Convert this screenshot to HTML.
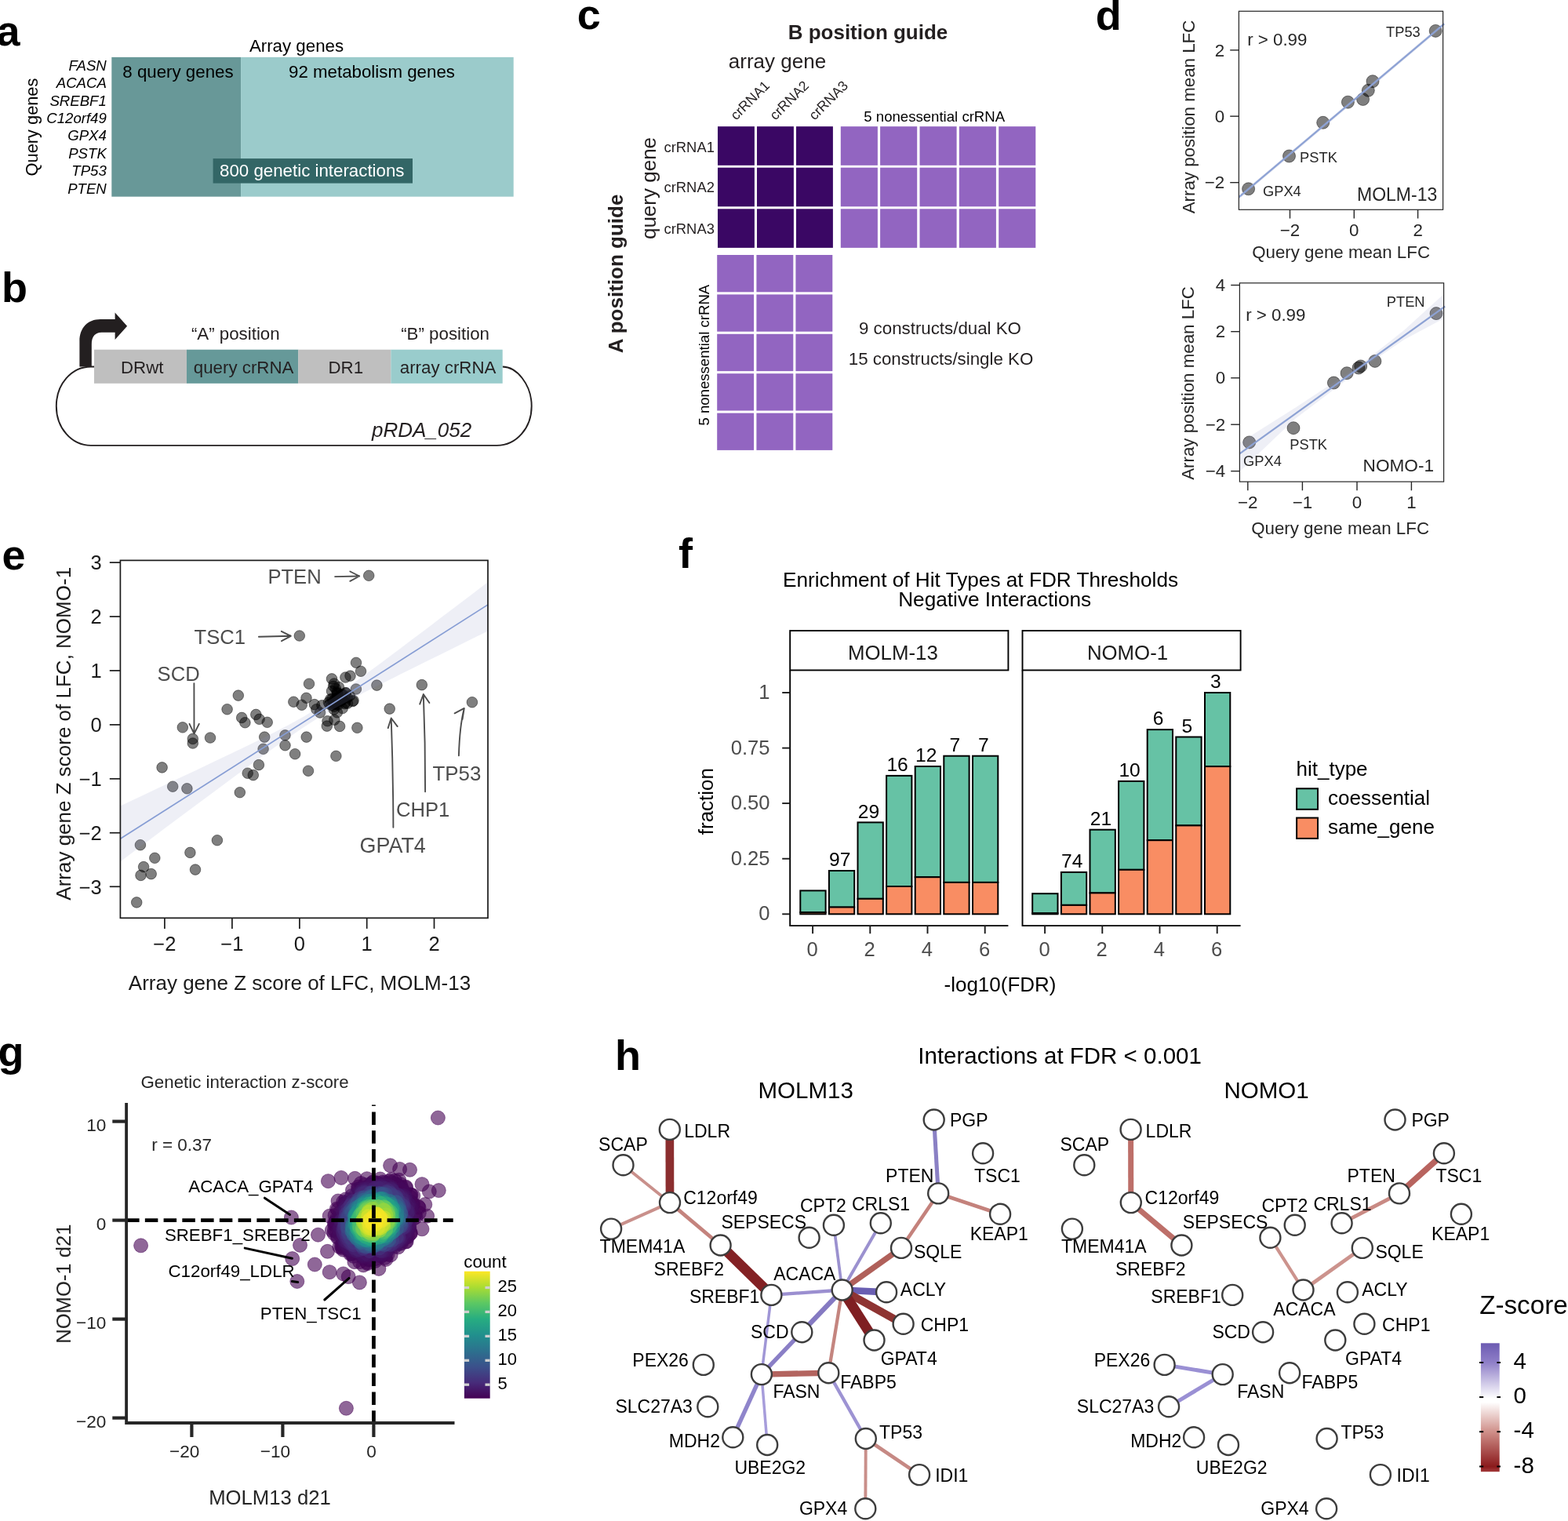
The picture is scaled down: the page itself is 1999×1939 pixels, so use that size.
<!DOCTYPE html>
<html lang="en"><head><meta charset="utf-8"><title>Figure</title>
<style>
html,body{margin:0;padding:0;background:#fff;}
body{width:1999px;height:1939px;overflow:hidden;}
svg{display:block;font-family:"Liberation Sans",Arial,sans-serif;}
</style></head><body>
<svg width="1999" height="1939" viewBox="0 0 1999 1939">
<rect width="1999" height="1939" fill="#fff"/>
<g id="pa">
<text x="-4.5" y="57.5" font-size="54" font-weight="bold">a</text>
<rect x="142.3" y="72.9" width="165.0" height="177.8" fill="#689898"/>
<rect x="307.1" y="72.9" width="347.6" height="177.8" fill="#9bcbcb"/>
<rect x="271.6" y="202.1" width="254.4" height="31.5" fill="#336666"/>
<text x="378.0" y="66.0" font-size="22.3" text-anchor="middle">Array genes</text>
<text x="156.3" y="99.0" font-size="22.3">8 query genes</text>
<text x="368.0" y="99.0" font-size="22.3">92 metabolism genes</text>
<text x="280.0" y="225.3" font-size="22.3" fill="#fff">800 genetic interactions</text>
<text x="135.8" y="89.8" font-size="18.6" text-anchor="end" font-style="italic">FASN</text>
<text x="135.8" y="112.2" font-size="18.6" text-anchor="end" font-style="italic">ACACA</text>
<text x="135.8" y="134.6" font-size="18.6" text-anchor="end" font-style="italic">SREBF1</text>
<text x="135.8" y="157.0" font-size="18.6" text-anchor="end" font-style="italic">C12orf49</text>
<text x="135.8" y="179.4" font-size="18.6" text-anchor="end" font-style="italic">GPX4</text>
<text x="135.8" y="201.8" font-size="18.6" text-anchor="end" font-style="italic">PSTK</text>
<text x="135.8" y="224.2" font-size="18.6" text-anchor="end" font-style="italic">TP53</text>
<text x="135.8" y="246.6" font-size="18.6" text-anchor="end" font-style="italic">PTEN</text>
<text transform="translate(47.5 162.0) rotate(-90)" font-size="21.8" text-anchor="middle">Query genes</text>
</g>
<g id="pb">
<text x="2.0" y="384.5" font-size="54" font-weight="bold">b</text>
<path d="M120 467.5 H116 C91 467.5 71.8 490 71.8 517.7 C71.8 545.5 91 567.9 116 567.9 H633.5 C658.5 567.9 677.7 545.5 677.7 517.7 C677.7 490 658.5 467.5 640.7 467.5" fill="none" stroke="#231f20" stroke-width="1.9"/>
<path d="M101.4 467.5 V435 C101.4 418 112 407.1 128 407.1 H146.6 V398.4 L162.1 415.7 L146.6 433 V423.8 H129.5 C121.5 423.8 116.8 429 116.8 439 V467.5 Z" fill="#231f20"/>
<rect x="120.0" y="445.7" width="118.2" height="43.1" fill="#bfbfbf"/>
<rect x="238.0" y="445.7" width="142.3" height="43.1" fill="#669999"/>
<rect x="380.2" y="445.7" width="118.3" height="43.1" fill="#bfbfbf"/>
<rect x="498.4" y="445.7" width="142.3" height="43.1" fill="#99cccc"/>
<text x="154.0" y="475.9" font-size="22.3" fill="#231f20">DRwt</text>
<text x="246.8" y="475.9" font-size="22.3" fill="#231f20">query crRNA</text>
<text x="418.5" y="475.9" font-size="22.3" fill="#231f20">DR1</text>
<text x="509.8" y="475.9" font-size="22.3" fill="#231f20">array crRNA</text>
<text x="243.9" y="433.0" font-size="22.3" fill="#231f20">“A” position</text>
<text x="511.2" y="433.0" font-size="22.3" fill="#231f20">“B” position</text>
<text x="474.0" y="556.8" font-size="26" font-style="italic" fill="#231f20">pRDA_052</text>
</g>
<g id="pc">
<text x="735.8" y="37.3" font-size="54" font-weight="bold">c</text>
<text x="1106.5" y="50.0" font-size="26" text-anchor="middle" font-weight="bold" fill="#231f20">B position guide</text>
<text transform="translate(794.0 349.0) rotate(-90)" font-size="26" text-anchor="middle" font-weight="bold" fill="#231f20">A position guide</text>
<text x="991.0" y="86.7" font-size="26" text-anchor="middle" fill="#231f20">array gene</text>
<text transform="translate(836.0 240.0) rotate(-90)" font-size="26" text-anchor="middle" fill="#231f20">query gene</text>
<rect x="915.0" y="161.2" width="46.9" height="49.6" fill="#3a0764"/>
<rect x="965.0" y="161.2" width="46.9" height="49.6" fill="#3a0764"/>
<rect x="1015.0" y="161.2" width="46.9" height="49.6" fill="#3a0764"/>
<rect x="915.0" y="213.7" width="46.9" height="49.6" fill="#3a0764"/>
<rect x="965.0" y="213.7" width="46.9" height="49.6" fill="#3a0764"/>
<rect x="1015.0" y="213.7" width="46.9" height="49.6" fill="#3a0764"/>
<rect x="915.0" y="266.3" width="46.9" height="49.6" fill="#3a0764"/>
<rect x="965.0" y="266.3" width="46.9" height="49.6" fill="#3a0764"/>
<rect x="1015.0" y="266.3" width="46.9" height="49.6" fill="#3a0764"/>
<rect x="1071.8" y="161.2" width="47.1" height="49.6" fill="#9265c1"/>
<rect x="1122.1" y="161.2" width="47.1" height="49.6" fill="#9265c1"/>
<rect x="1172.5" y="161.2" width="47.1" height="49.6" fill="#9265c1"/>
<rect x="1222.8" y="161.2" width="47.1" height="49.6" fill="#9265c1"/>
<rect x="1273.2" y="161.2" width="47.1" height="49.6" fill="#9265c1"/>
<rect x="1071.8" y="213.7" width="47.1" height="49.6" fill="#9265c1"/>
<rect x="1122.1" y="213.7" width="47.1" height="49.6" fill="#9265c1"/>
<rect x="1172.5" y="213.7" width="47.1" height="49.6" fill="#9265c1"/>
<rect x="1222.8" y="213.7" width="47.1" height="49.6" fill="#9265c1"/>
<rect x="1273.2" y="213.7" width="47.1" height="49.6" fill="#9265c1"/>
<rect x="1071.8" y="266.3" width="47.1" height="49.6" fill="#9265c1"/>
<rect x="1122.1" y="266.3" width="47.1" height="49.6" fill="#9265c1"/>
<rect x="1172.5" y="266.3" width="47.1" height="49.6" fill="#9265c1"/>
<rect x="1222.8" y="266.3" width="47.1" height="49.6" fill="#9265c1"/>
<rect x="1273.2" y="266.3" width="47.1" height="49.6" fill="#9265c1"/>
<rect x="914.2" y="325.0" width="46.9" height="47.3" fill="#9265c1"/>
<rect x="964.4" y="325.0" width="46.9" height="47.3" fill="#9265c1"/>
<rect x="1014.4" y="325.0" width="46.9" height="47.3" fill="#9265c1"/>
<rect x="914.2" y="375.4" width="46.9" height="47.3" fill="#9265c1"/>
<rect x="964.4" y="375.4" width="46.9" height="47.3" fill="#9265c1"/>
<rect x="1014.4" y="375.4" width="46.9" height="47.3" fill="#9265c1"/>
<rect x="914.2" y="425.8" width="46.9" height="47.3" fill="#9265c1"/>
<rect x="964.4" y="425.8" width="46.9" height="47.3" fill="#9265c1"/>
<rect x="1014.4" y="425.8" width="46.9" height="47.3" fill="#9265c1"/>
<rect x="914.2" y="476.2" width="46.9" height="47.3" fill="#9265c1"/>
<rect x="964.4" y="476.2" width="46.9" height="47.3" fill="#9265c1"/>
<rect x="1014.4" y="476.2" width="46.9" height="47.3" fill="#9265c1"/>
<rect x="914.2" y="526.6" width="46.9" height="47.3" fill="#9265c1"/>
<rect x="964.4" y="526.6" width="46.9" height="47.3" fill="#9265c1"/>
<rect x="1014.4" y="526.6" width="46.9" height="47.3" fill="#9265c1"/>
<text transform="translate(938.4 154.0) rotate(-45)" font-size="17.7" fill="#231f20">crRNA1</text>
<text transform="translate(988.4 154.0) rotate(-45)" font-size="17.7" fill="#231f20">crRNA2</text>
<text transform="translate(1038.4 154.0) rotate(-45)" font-size="17.7" fill="#231f20">crRNA3</text>
<text x="846.5" y="193.5" font-size="18.4" fill="#231f20">crRNA1</text>
<text x="846.5" y="244.8" font-size="18.4" fill="#231f20">crRNA2</text>
<text x="846.5" y="297.5" font-size="18.4" fill="#231f20">crRNA3</text>
<text x="1101.3" y="154.9" font-size="18.6">5 nonessential crRNA</text>
<text transform="translate(904.0 452.7) rotate(-90)" font-size="18.6" text-anchor="middle">5 nonessential crRNA</text>
<text x="1095.0" y="426.0" font-size="22.3" fill="#231f20">9 constructs/dual KO</text>
<text x="1081.8" y="465.4" font-size="22.3" fill="#231f20">15 constructs/single KO</text>
</g>
<g id="pd">
<text x="1396.8" y="37.5" font-size="54" font-weight="bold">d</text>
<circle cx="1830.2" cy="39.4" r="8.0" fill="#000" fill-opacity="0.5" stroke="#000" stroke-opacity="0.45" stroke-width="1"/>
<circle cx="1750.0" cy="103.7" r="8.0" fill="#000" fill-opacity="0.5" stroke="#000" stroke-opacity="0.45" stroke-width="1"/>
<circle cx="1744.3" cy="115.3" r="8.0" fill="#000" fill-opacity="0.5" stroke="#000" stroke-opacity="0.45" stroke-width="1"/>
<circle cx="1737.6" cy="126.5" r="8.0" fill="#000" fill-opacity="0.5" stroke="#000" stroke-opacity="0.45" stroke-width="1"/>
<circle cx="1718.4" cy="130.2" r="8.0" fill="#000" fill-opacity="0.5" stroke="#000" stroke-opacity="0.45" stroke-width="1"/>
<circle cx="1686.7" cy="156.3" r="8.0" fill="#000" fill-opacity="0.5" stroke="#000" stroke-opacity="0.45" stroke-width="1"/>
<circle cx="1643.5" cy="199.0" r="8.0" fill="#000" fill-opacity="0.5" stroke="#000" stroke-opacity="0.45" stroke-width="1"/>
<circle cx="1591.6" cy="240.8" r="8.0" fill="#000" fill-opacity="0.5" stroke="#000" stroke-opacity="0.45" stroke-width="1"/>
<path d="M1579.4 249 L1841.2 28 L1841.2 33 L1579.4 254 Z" fill="#8e94c3" fill-opacity="0.17"/>
<line x1="1579.4" y1="251.4" x2="1841.2" y2="30.4" stroke="#8da2d4" stroke-width="2.2"/>
<rect x="1579.4" y="14.3" width="260.2" height="253.0" fill="none" stroke="#262626" stroke-width="1.2"/>
<line x1="1644.5" y1="267.3" x2="1644.5" y2="278.5" stroke="#262626" stroke-width="1.4"/>
<text x="1644.5" y="301.4" font-size="22.3" text-anchor="middle" fill="#262626">−2</text>
<line x1="1726.3" y1="267.3" x2="1726.3" y2="278.5" stroke="#262626" stroke-width="1.4"/>
<text x="1726.3" y="301.4" font-size="22.3" text-anchor="middle" fill="#262626">0</text>
<line x1="1807.6" y1="267.3" x2="1807.6" y2="278.5" stroke="#262626" stroke-width="1.4"/>
<text x="1807.6" y="301.4" font-size="22.3" text-anchor="middle" fill="#262626">2</text>
<line x1="1568.2" y1="63.9" x2="1579.4" y2="63.9" stroke="#262626" stroke-width="1.4"/>
<text x="1561.2" y="71.5" font-size="22.3" text-anchor="end" fill="#262626">2</text>
<line x1="1568.2" y1="148.2" x2="1579.4" y2="148.2" stroke="#262626" stroke-width="1.4"/>
<text x="1561.2" y="155.8" font-size="22.3" text-anchor="end" fill="#262626">0</text>
<line x1="1568.2" y1="232.7" x2="1579.4" y2="232.7" stroke="#262626" stroke-width="1.4"/>
<text x="1561.2" y="240.3" font-size="22.3" text-anchor="end" fill="#262626">−2</text>
<text x="1709.6" y="329.0" font-size="22.3" text-anchor="middle" fill="#262626">Query gene mean LFC</text>
<text transform="translate(1522.9 149.0) rotate(-90)" font-size="22.3" text-anchor="middle" fill="#262626">Array position mean LFC</text>
<text x="1590.2" y="57.8" font-size="22.3" fill="#262626">r &gt; 0.99</text>
<text x="1767.1" y="46.5" font-size="18.3" fill="#262626">TP53</text>
<text x="1657.1" y="206.7" font-size="18.3" fill="#262626">PSTK</text>
<text x="1610.0" y="250.4" font-size="18.3" fill="#262626">GPX4</text>
<text x="1730.0" y="256.1" font-size="23" fill="#262626">MOLM-13</text>
<circle cx="1831.0" cy="399.6" r="8.0" fill="#000" fill-opacity="0.5" stroke="#000" stroke-opacity="0.45" stroke-width="1"/>
<circle cx="1752.9" cy="460.4" r="8.0" fill="#000" fill-opacity="0.5" stroke="#000" stroke-opacity="0.45" stroke-width="1"/>
<circle cx="1734.7" cy="466.9" r="8.0" fill="#000" fill-opacity="0.5" stroke="#000" stroke-opacity="0.45" stroke-width="1"/>
<circle cx="1732.0" cy="469.0" r="8.0" fill="#000" fill-opacity="0.5" stroke="#000" stroke-opacity="0.45" stroke-width="1"/>
<circle cx="1717.1" cy="475.7" r="8.0" fill="#000" fill-opacity="0.5" stroke="#000" stroke-opacity="0.45" stroke-width="1"/>
<circle cx="1700.4" cy="488.0" r="8.0" fill="#000" fill-opacity="0.5" stroke="#000" stroke-opacity="0.45" stroke-width="1"/>
<circle cx="1649.0" cy="545.7" r="8.0" fill="#000" fill-opacity="0.5" stroke="#000" stroke-opacity="0.45" stroke-width="1"/>
<circle cx="1592.7" cy="563.9" r="8.0" fill="#000" fill-opacity="0.5" stroke="#000" stroke-opacity="0.45" stroke-width="1"/>
<path d="M1580.4 564.5 L1651 520 L1733 466 L1790 421 L1840.6 375 L1840.6 406 L1790 433 L1733 472 L1651 534 L1580.4 601.2 Z" fill="#8e94c3" fill-opacity="0.15"/>
<line x1="1580.4" y1="578.4" x2="1842.2" y2="390.6" stroke="#8da2d4" stroke-width="2.2"/>
<rect x="1580.4" y="360.8" width="260.2" height="253.3" fill="none" stroke="#262626" stroke-width="1.2"/>
<line x1="1590.8" y1="614.1" x2="1590.8" y2="625.3" stroke="#262626" stroke-width="1.4"/>
<text x="1590.8" y="648.2" font-size="22.3" text-anchor="middle" fill="#262626">−2</text>
<line x1="1660.4" y1="614.1" x2="1660.4" y2="625.3" stroke="#262626" stroke-width="1.4"/>
<text x="1660.4" y="648.2" font-size="22.3" text-anchor="middle" fill="#262626">−1</text>
<line x1="1730.0" y1="614.1" x2="1730.0" y2="625.3" stroke="#262626" stroke-width="1.4"/>
<text x="1730.0" y="648.2" font-size="22.3" text-anchor="middle" fill="#262626">0</text>
<line x1="1799.4" y1="614.1" x2="1799.4" y2="625.3" stroke="#262626" stroke-width="1.4"/>
<text x="1799.4" y="648.2" font-size="22.3" text-anchor="middle" fill="#262626">1</text>
<line x1="1569.2" y1="363.5" x2="1580.4" y2="363.5" stroke="#262626" stroke-width="1.4"/>
<text x="1562.2" y="371.1" font-size="22.3" text-anchor="end" fill="#262626">4</text>
<line x1="1569.2" y1="422.7" x2="1580.4" y2="422.7" stroke="#262626" stroke-width="1.4"/>
<text x="1562.2" y="430.3" font-size="22.3" text-anchor="end" fill="#262626">2</text>
<line x1="1569.2" y1="481.8" x2="1580.4" y2="481.8" stroke="#262626" stroke-width="1.4"/>
<text x="1562.2" y="489.4" font-size="22.3" text-anchor="end" fill="#262626">0</text>
<line x1="1569.2" y1="541.2" x2="1580.4" y2="541.2" stroke="#262626" stroke-width="1.4"/>
<text x="1562.2" y="548.8" font-size="22.3" text-anchor="end" fill="#262626">−2</text>
<line x1="1569.2" y1="600.6" x2="1580.4" y2="600.6" stroke="#262626" stroke-width="1.4"/>
<text x="1562.2" y="608.2" font-size="22.3" text-anchor="end" fill="#262626">−4</text>
<text x="1708.6" y="681.2" font-size="22.3" text-anchor="middle" fill="#262626">Query gene mean LFC</text>
<text transform="translate(1521.8 488.5) rotate(-90)" font-size="22.3" text-anchor="middle" fill="#262626">Array position mean LFC</text>
<text x="1588.2" y="409.4" font-size="22.3" fill="#262626">r &gt; 0.99</text>
<text x="1767.8" y="391.4" font-size="18.3" fill="#262626">PTEN</text>
<text x="1644.3" y="573.3" font-size="18.3" fill="#262626">PSTK</text>
<text x="1585.1" y="593.7" font-size="18.3" fill="#262626">GPX4</text>
<text x="1737.6" y="600.6" font-size="22.6" fill="#262626">NOMO-1</text>
</g>
<g id="pe">
<text x="2.5" y="726.0" font-size="54" font-weight="bold">e</text>
<circle cx="470.2" cy="733.8" r="6.8" fill="#000" fill-opacity="0.5" stroke="#000" stroke-opacity="0.45" stroke-width="1"/>
<circle cx="381.8" cy="810.5" r="6.8" fill="#000" fill-opacity="0.5" stroke="#000" stroke-opacity="0.45" stroke-width="1"/>
<circle cx="303.8" cy="886.6" r="6.8" fill="#000" fill-opacity="0.5" stroke="#000" stroke-opacity="0.45" stroke-width="1"/>
<circle cx="289.6" cy="904.2" r="6.8" fill="#000" fill-opacity="0.5" stroke="#000" stroke-opacity="0.45" stroke-width="1"/>
<circle cx="308.2" cy="914.9" r="6.8" fill="#000" fill-opacity="0.5" stroke="#000" stroke-opacity="0.45" stroke-width="1"/>
<circle cx="312.4" cy="921.2" r="6.8" fill="#000" fill-opacity="0.5" stroke="#000" stroke-opacity="0.45" stroke-width="1"/>
<circle cx="326.3" cy="910.9" r="6.8" fill="#000" fill-opacity="0.5" stroke="#000" stroke-opacity="0.45" stroke-width="1"/>
<circle cx="330.6" cy="916.8" r="6.8" fill="#000" fill-opacity="0.5" stroke="#000" stroke-opacity="0.45" stroke-width="1"/>
<circle cx="340.7" cy="920.8" r="6.8" fill="#000" fill-opacity="0.5" stroke="#000" stroke-opacity="0.45" stroke-width="1"/>
<circle cx="232.8" cy="927.3" r="6.8" fill="#000" fill-opacity="0.5" stroke="#000" stroke-opacity="0.45" stroke-width="1"/>
<circle cx="245.8" cy="941.9" r="6.8" fill="#000" fill-opacity="0.5" stroke="#000" stroke-opacity="0.45" stroke-width="1"/>
<circle cx="245.8" cy="947.5" r="6.8" fill="#000" fill-opacity="0.5" stroke="#000" stroke-opacity="0.45" stroke-width="1"/>
<circle cx="268.0" cy="940.5" r="6.8" fill="#000" fill-opacity="0.5" stroke="#000" stroke-opacity="0.45" stroke-width="1"/>
<circle cx="337.2" cy="939.6" r="6.8" fill="#000" fill-opacity="0.5" stroke="#000" stroke-opacity="0.45" stroke-width="1"/>
<circle cx="363.5" cy="937.3" r="6.8" fill="#000" fill-opacity="0.5" stroke="#000" stroke-opacity="0.45" stroke-width="1"/>
<circle cx="390.7" cy="939.6" r="6.8" fill="#000" fill-opacity="0.5" stroke="#000" stroke-opacity="0.45" stroke-width="1"/>
<circle cx="335.6" cy="954.8" r="6.8" fill="#000" fill-opacity="0.5" stroke="#000" stroke-opacity="0.45" stroke-width="1"/>
<circle cx="363.5" cy="950.2" r="6.8" fill="#000" fill-opacity="0.5" stroke="#000" stroke-opacity="0.45" stroke-width="1"/>
<circle cx="376.1" cy="961.2" r="6.8" fill="#000" fill-opacity="0.5" stroke="#000" stroke-opacity="0.45" stroke-width="1"/>
<circle cx="329.9" cy="975.1" r="6.8" fill="#000" fill-opacity="0.5" stroke="#000" stroke-opacity="0.45" stroke-width="1"/>
<circle cx="315.7" cy="985.7" r="6.8" fill="#000" fill-opacity="0.5" stroke="#000" stroke-opacity="0.45" stroke-width="1"/>
<circle cx="322.8" cy="988.1" r="6.8" fill="#000" fill-opacity="0.5" stroke="#000" stroke-opacity="0.45" stroke-width="1"/>
<circle cx="393.0" cy="982.7" r="6.8" fill="#000" fill-opacity="0.5" stroke="#000" stroke-opacity="0.45" stroke-width="1"/>
<circle cx="206.6" cy="978.4" r="6.8" fill="#000" fill-opacity="0.5" stroke="#000" stroke-opacity="0.45" stroke-width="1"/>
<circle cx="220.2" cy="1002.7" r="6.8" fill="#000" fill-opacity="0.5" stroke="#000" stroke-opacity="0.45" stroke-width="1"/>
<circle cx="238.4" cy="1005.3" r="6.8" fill="#000" fill-opacity="0.5" stroke="#000" stroke-opacity="0.45" stroke-width="1"/>
<circle cx="305.8" cy="1010.2" r="6.8" fill="#000" fill-opacity="0.5" stroke="#000" stroke-opacity="0.45" stroke-width="1"/>
<circle cx="276.9" cy="1071.2" r="6.8" fill="#000" fill-opacity="0.5" stroke="#000" stroke-opacity="0.45" stroke-width="1"/>
<circle cx="178.9" cy="1077.2" r="6.8" fill="#000" fill-opacity="0.5" stroke="#000" stroke-opacity="0.45" stroke-width="1"/>
<circle cx="242.4" cy="1086.9" r="6.8" fill="#000" fill-opacity="0.5" stroke="#000" stroke-opacity="0.45" stroke-width="1"/>
<circle cx="197.3" cy="1093.8" r="6.8" fill="#000" fill-opacity="0.5" stroke="#000" stroke-opacity="0.45" stroke-width="1"/>
<circle cx="183.1" cy="1105.1" r="6.8" fill="#000" fill-opacity="0.5" stroke="#000" stroke-opacity="0.45" stroke-width="1"/>
<circle cx="179.5" cy="1115.9" r="6.8" fill="#000" fill-opacity="0.5" stroke="#000" stroke-opacity="0.45" stroke-width="1"/>
<circle cx="192.7" cy="1114.1" r="6.8" fill="#000" fill-opacity="0.5" stroke="#000" stroke-opacity="0.45" stroke-width="1"/>
<circle cx="249.0" cy="1108.6" r="6.8" fill="#000" fill-opacity="0.5" stroke="#000" stroke-opacity="0.45" stroke-width="1"/>
<circle cx="174.2" cy="1150.4" r="6.8" fill="#000" fill-opacity="0.5" stroke="#000" stroke-opacity="0.45" stroke-width="1"/>
<circle cx="428.4" cy="963.8" r="6.8" fill="#000" fill-opacity="0.5" stroke="#000" stroke-opacity="0.45" stroke-width="1"/>
<circle cx="454.0" cy="844.8" r="6.8" fill="#000" fill-opacity="0.5" stroke="#000" stroke-opacity="0.45" stroke-width="1"/>
<circle cx="460.0" cy="855.7" r="6.8" fill="#000" fill-opacity="0.5" stroke="#000" stroke-opacity="0.45" stroke-width="1"/>
<circle cx="423.0" cy="865.4" r="6.8" fill="#000" fill-opacity="0.5" stroke="#000" stroke-opacity="0.45" stroke-width="1"/>
<circle cx="440.4" cy="863.5" r="6.8" fill="#000" fill-opacity="0.5" stroke="#000" stroke-opacity="0.45" stroke-width="1"/>
<circle cx="446.5" cy="861.6" r="6.8" fill="#000" fill-opacity="0.5" stroke="#000" stroke-opacity="0.45" stroke-width="1"/>
<circle cx="394.0" cy="871.7" r="6.8" fill="#000" fill-opacity="0.5" stroke="#000" stroke-opacity="0.45" stroke-width="1"/>
<circle cx="480.4" cy="873.6" r="6.8" fill="#000" fill-opacity="0.5" stroke="#000" stroke-opacity="0.45" stroke-width="1"/>
<circle cx="453.9" cy="878.5" r="6.8" fill="#000" fill-opacity="0.5" stroke="#000" stroke-opacity="0.45" stroke-width="1"/>
<circle cx="390.5" cy="889.8" r="6.8" fill="#000" fill-opacity="0.5" stroke="#000" stroke-opacity="0.45" stroke-width="1"/>
<circle cx="374.3" cy="894.7" r="6.8" fill="#000" fill-opacity="0.5" stroke="#000" stroke-opacity="0.45" stroke-width="1"/>
<circle cx="384.7" cy="898.7" r="6.8" fill="#000" fill-opacity="0.5" stroke="#000" stroke-opacity="0.45" stroke-width="1"/>
<circle cx="400.9" cy="898.1" r="6.8" fill="#000" fill-opacity="0.5" stroke="#000" stroke-opacity="0.45" stroke-width="1"/>
<circle cx="410.4" cy="899.3" r="6.8" fill="#000" fill-opacity="0.5" stroke="#000" stroke-opacity="0.45" stroke-width="1"/>
<circle cx="403.4" cy="904.2" r="6.8" fill="#000" fill-opacity="0.5" stroke="#000" stroke-opacity="0.45" stroke-width="1"/>
<circle cx="408.0" cy="908.5" r="6.8" fill="#000" fill-opacity="0.5" stroke="#000" stroke-opacity="0.45" stroke-width="1"/>
<circle cx="449.6" cy="894.1" r="6.8" fill="#000" fill-opacity="0.5" stroke="#000" stroke-opacity="0.45" stroke-width="1"/>
<circle cx="436.7" cy="903.0" r="6.8" fill="#000" fill-opacity="0.5" stroke="#000" stroke-opacity="0.45" stroke-width="1"/>
<circle cx="426.3" cy="917.7" r="6.8" fill="#000" fill-opacity="0.5" stroke="#000" stroke-opacity="0.45" stroke-width="1"/>
<circle cx="417.5" cy="919.2" r="6.8" fill="#000" fill-opacity="0.5" stroke="#000" stroke-opacity="0.45" stroke-width="1"/>
<circle cx="416.8" cy="925.6" r="6.8" fill="#000" fill-opacity="0.5" stroke="#000" stroke-opacity="0.45" stroke-width="1"/>
<circle cx="433.1" cy="925.9" r="6.8" fill="#000" fill-opacity="0.5" stroke="#000" stroke-opacity="0.45" stroke-width="1"/>
<circle cx="455.4" cy="927.8" r="6.8" fill="#000" fill-opacity="0.5" stroke="#000" stroke-opacity="0.45" stroke-width="1"/>
<circle cx="537.8" cy="873.1" r="6.8" fill="#000" fill-opacity="0.5" stroke="#000" stroke-opacity="0.45" stroke-width="1"/>
<circle cx="601.9" cy="895.2" r="6.8" fill="#000" fill-opacity="0.5" stroke="#000" stroke-opacity="0.45" stroke-width="1"/>
<circle cx="496.7" cy="903.6" r="6.8" fill="#000" fill-opacity="0.5" stroke="#000" stroke-opacity="0.45" stroke-width="1"/>
<circle cx="431.0" cy="898.8" r="6.8" fill="#000" fill-opacity="0.5" stroke="#000" stroke-opacity="0.45" stroke-width="1"/>
<circle cx="425.7" cy="904.4" r="6.8" fill="#000" fill-opacity="0.5" stroke="#000" stroke-opacity="0.45" stroke-width="1"/>
<circle cx="433.2" cy="890.4" r="6.8" fill="#000" fill-opacity="0.5" stroke="#000" stroke-opacity="0.45" stroke-width="1"/>
<circle cx="434.0" cy="893.1" r="6.8" fill="#000" fill-opacity="0.5" stroke="#000" stroke-opacity="0.45" stroke-width="1"/>
<circle cx="420.3" cy="897.8" r="6.8" fill="#000" fill-opacity="0.5" stroke="#000" stroke-opacity="0.45" stroke-width="1"/>
<circle cx="423.1" cy="899.3" r="6.8" fill="#000" fill-opacity="0.5" stroke="#000" stroke-opacity="0.45" stroke-width="1"/>
<circle cx="431.8" cy="894.3" r="6.8" fill="#000" fill-opacity="0.5" stroke="#000" stroke-opacity="0.45" stroke-width="1"/>
<circle cx="424.7" cy="894.3" r="6.8" fill="#000" fill-opacity="0.5" stroke="#000" stroke-opacity="0.45" stroke-width="1"/>
<circle cx="439.9" cy="895.7" r="6.8" fill="#000" fill-opacity="0.5" stroke="#000" stroke-opacity="0.45" stroke-width="1"/>
<circle cx="429.1" cy="891.7" r="6.8" fill="#000" fill-opacity="0.5" stroke="#000" stroke-opacity="0.45" stroke-width="1"/>
<circle cx="450.6" cy="893.1" r="6.8" fill="#000" fill-opacity="0.5" stroke="#000" stroke-opacity="0.45" stroke-width="1"/>
<circle cx="429.4" cy="898.0" r="6.8" fill="#000" fill-opacity="0.5" stroke="#000" stroke-opacity="0.45" stroke-width="1"/>
<circle cx="425.9" cy="900.7" r="6.8" fill="#000" fill-opacity="0.5" stroke="#000" stroke-opacity="0.45" stroke-width="1"/>
<circle cx="442.7" cy="889.6" r="6.8" fill="#000" fill-opacity="0.5" stroke="#000" stroke-opacity="0.45" stroke-width="1"/>
<circle cx="421.3" cy="891.4" r="6.8" fill="#000" fill-opacity="0.5" stroke="#000" stroke-opacity="0.45" stroke-width="1"/>
<circle cx="427.7" cy="890.8" r="6.8" fill="#000" fill-opacity="0.5" stroke="#000" stroke-opacity="0.45" stroke-width="1"/>
<circle cx="435.2" cy="892.7" r="6.8" fill="#000" fill-opacity="0.5" stroke="#000" stroke-opacity="0.45" stroke-width="1"/>
<circle cx="426.0" cy="897.4" r="6.8" fill="#000" fill-opacity="0.5" stroke="#000" stroke-opacity="0.45" stroke-width="1"/>
<circle cx="435.3" cy="885.5" r="6.8" fill="#000" fill-opacity="0.5" stroke="#000" stroke-opacity="0.45" stroke-width="1"/>
<circle cx="436.3" cy="892.4" r="6.8" fill="#000" fill-opacity="0.5" stroke="#000" stroke-opacity="0.45" stroke-width="1"/>
<circle cx="430.2" cy="890.2" r="6.8" fill="#000" fill-opacity="0.5" stroke="#000" stroke-opacity="0.45" stroke-width="1"/>
<circle cx="443.0" cy="896.6" r="6.8" fill="#000" fill-opacity="0.5" stroke="#000" stroke-opacity="0.45" stroke-width="1"/>
<circle cx="423.3" cy="891.1" r="6.8" fill="#000" fill-opacity="0.5" stroke="#000" stroke-opacity="0.45" stroke-width="1"/>
<circle cx="440.9" cy="883.4" r="6.8" fill="#000" fill-opacity="0.5" stroke="#000" stroke-opacity="0.45" stroke-width="1"/>
<circle cx="436.8" cy="885.2" r="6.8" fill="#000" fill-opacity="0.5" stroke="#000" stroke-opacity="0.45" stroke-width="1"/>
<circle cx="429.8" cy="908.3" r="6.8" fill="#000" fill-opacity="0.5" stroke="#000" stroke-opacity="0.45" stroke-width="1"/>
<circle cx="431.0" cy="893.4" r="6.8" fill="#000" fill-opacity="0.5" stroke="#000" stroke-opacity="0.45" stroke-width="1"/>
<circle cx="431.0" cy="889.5" r="6.8" fill="#000" fill-opacity="0.5" stroke="#000" stroke-opacity="0.45" stroke-width="1"/>
<circle cx="418.9" cy="895.5" r="6.8" fill="#000" fill-opacity="0.5" stroke="#000" stroke-opacity="0.45" stroke-width="1"/>
<circle cx="430.5" cy="884.0" r="6.8" fill="#000" fill-opacity="0.5" stroke="#000" stroke-opacity="0.45" stroke-width="1"/>
<circle cx="440.7" cy="883.2" r="6.8" fill="#000" fill-opacity="0.5" stroke="#000" stroke-opacity="0.45" stroke-width="1"/>
<circle cx="439.6" cy="897.1" r="6.8" fill="#000" fill-opacity="0.5" stroke="#000" stroke-opacity="0.45" stroke-width="1"/>
<circle cx="429.6" cy="882.2" r="6.8" fill="#000" fill-opacity="0.5" stroke="#000" stroke-opacity="0.45" stroke-width="1"/>
<circle cx="445.8" cy="887.2" r="6.8" fill="#000" fill-opacity="0.5" stroke="#000" stroke-opacity="0.45" stroke-width="1"/>
<circle cx="425.1" cy="874.8" r="6.8" fill="#000" fill-opacity="0.5" stroke="#000" stroke-opacity="0.45" stroke-width="1"/>
<circle cx="428.0" cy="878.0" r="6.8" fill="#000" fill-opacity="0.5" stroke="#000" stroke-opacity="0.45" stroke-width="1"/>
<circle cx="423.0" cy="881.0" r="6.8" fill="#000" fill-opacity="0.5" stroke="#000" stroke-opacity="0.45" stroke-width="1"/>
<circle cx="430.0" cy="884.0" r="6.8" fill="#000" fill-opacity="0.5" stroke="#000" stroke-opacity="0.45" stroke-width="1"/>
<circle cx="426.0" cy="871.5" r="6.8" fill="#000" fill-opacity="0.5" stroke="#000" stroke-opacity="0.45" stroke-width="1"/>
<circle cx="432.0" cy="876.0" r="6.8" fill="#000" fill-opacity="0.5" stroke="#000" stroke-opacity="0.45" stroke-width="1"/>
<path d="M153.4 1027.5 L172.9 1018.3 L192.5 1009.1 L212.0 999.8 L231.5 990.6 L251.0 981.4 L270.6 972.1 L290.1 962.8 L309.6 953.4 L329.1 943.9 L348.6 934.2 L368.2 924.1 L387.7 913.3 L407.2 901.1 L426.8 887.9 L446.3 874.1 L465.8 859.8 L485.3 845.4 L504.9 830.8 L524.4 816.1 L543.9 801.4 L563.4 786.6 L583.0 771.8 L602.5 757.0 L622.0 742.1 L622.0 804.5 L602.5 814.1 L583.0 823.7 L563.4 833.4 L543.9 843.0 L524.4 852.7 L504.9 862.4 L485.3 872.2 L465.8 882.1 L446.3 892.3 L426.8 902.9 L407.2 914.3 L387.7 926.8 L368.2 940.0 L348.6 953.8 L329.1 967.8 L309.6 982.1 L290.1 996.5 L270.6 1011.0 L251.0 1025.5 L231.5 1040.0 L212.0 1054.6 L192.5 1069.2 L172.9 1083.8 L153.4 1098.4 Z" fill="#8e94c3" fill-opacity="0.15"/>
<line x1="153.4" y1="1069.3" x2="622.0" y2="770.9" stroke="#869dd4" stroke-width="1.7"/>
<rect x="153.4" y="714.4" width="468.6" height="455.9" fill="none" stroke="#1a1a1a" stroke-width="1.7"/>
<line x1="209.9" y1="1170.3" x2="209.9" y2="1183.9" stroke="#1a1a1a" stroke-width="1.7"/>
<text x="209.9" y="1212.4" font-size="25.5" text-anchor="middle" fill="#1a1a1a">−2</text>
<line x1="295.9" y1="1170.3" x2="295.9" y2="1183.9" stroke="#1a1a1a" stroke-width="1.7"/>
<text x="295.9" y="1212.4" font-size="25.5" text-anchor="middle" fill="#1a1a1a">−1</text>
<line x1="381.9" y1="1170.3" x2="381.9" y2="1183.9" stroke="#1a1a1a" stroke-width="1.7"/>
<text x="381.9" y="1212.4" font-size="25.5" text-anchor="middle" fill="#1a1a1a">0</text>
<line x1="467.7" y1="1170.3" x2="467.7" y2="1183.9" stroke="#1a1a1a" stroke-width="1.7"/>
<text x="467.7" y="1212.4" font-size="25.5" text-anchor="middle" fill="#1a1a1a">1</text>
<line x1="553.5" y1="1170.3" x2="553.5" y2="1183.9" stroke="#1a1a1a" stroke-width="1.7"/>
<text x="553.5" y="1212.4" font-size="25.5" text-anchor="middle" fill="#1a1a1a">2</text>
<line x1="139.8" y1="717.1" x2="153.4" y2="717.1" stroke="#1a1a1a" stroke-width="1.7"/>
<text x="129.8" y="726.4" font-size="25.5" text-anchor="end" fill="#1a1a1a">3</text>
<line x1="139.8" y1="786.0" x2="153.4" y2="786.0" stroke="#1a1a1a" stroke-width="1.7"/>
<text x="129.8" y="795.3" font-size="25.5" text-anchor="end" fill="#1a1a1a">2</text>
<line x1="139.8" y1="854.9" x2="153.4" y2="854.9" stroke="#1a1a1a" stroke-width="1.7"/>
<text x="129.8" y="864.2" font-size="25.5" text-anchor="end" fill="#1a1a1a">1</text>
<line x1="139.8" y1="923.9" x2="153.4" y2="923.9" stroke="#1a1a1a" stroke-width="1.7"/>
<text x="129.8" y="933.2" font-size="25.5" text-anchor="end" fill="#1a1a1a">0</text>
<line x1="139.8" y1="992.8" x2="153.4" y2="992.8" stroke="#1a1a1a" stroke-width="1.7"/>
<text x="129.8" y="1002.1" font-size="25.5" text-anchor="end" fill="#1a1a1a">−1</text>
<line x1="139.8" y1="1061.7" x2="153.4" y2="1061.7" stroke="#1a1a1a" stroke-width="1.7"/>
<text x="129.8" y="1071.0" font-size="25.5" text-anchor="end" fill="#1a1a1a">−2</text>
<line x1="139.8" y1="1130.3" x2="153.4" y2="1130.3" stroke="#1a1a1a" stroke-width="1.7"/>
<text x="129.8" y="1139.6" font-size="25.5" text-anchor="end" fill="#1a1a1a">−3</text>
<text x="382.0" y="1262.0" font-size="26" text-anchor="middle" fill="#1a1a1a">Array gene Z score of LFC, MOLM-13</text>
<text transform="translate(90.0 935.3) rotate(-90)" font-size="26" text-anchor="middle" fill="#1a1a1a">Array gene Z score of LFC, NOMO-1</text>
<text x="341.4" y="744.4" font-size="25.6" fill="#4d4d4d">PTEN</text>
<text x="247.5" y="821.4" font-size="25.6" fill="#4d4d4d">TSC1</text>
<text x="200.6" y="867.8" font-size="25.6" fill="#4d4d4d">SCD</text>
<text x="551.5" y="995.0" font-size="25.9" fill="#4d4d4d">TP53</text>
<text x="505.0" y="1040.7" font-size="25.6" fill="#4d4d4d">CHP1</text>
<text x="458.6" y="1086.5" font-size="26.9" fill="#4d4d4d">GPAT4</text>
<path d="M427.1 735.1 L458.2 734.5 M446.3 728.5 L458.2 734.5 L446.3 740.8" fill="none" stroke="#4d4d4d" stroke-width="1.9" stroke-linecap="round" stroke-linejoin="round"/>
<path d="M329.9 811.8 L370.8 810.8 M358.8 804.8 L370.8 810.8 L359 817.2" fill="none" stroke="#4d4d4d" stroke-width="1.9" stroke-linecap="round" stroke-linejoin="round"/>
<path d="M247.4 871.1 L247.5 935.4 M241.5 922.8 L247.5 935.4 L253.8 922.8" fill="none" stroke="#4d4d4d" stroke-width="1.9" stroke-linecap="round" stroke-linejoin="round"/>
<path d="M501.4 1054.7 Q501.2 985 498.7 915.5 M494.7 928.1 L498.7 915.5 L506.7 926.1" fill="none" stroke="#4d4d4d" stroke-width="1.9" stroke-linecap="round" stroke-linejoin="round"/>
<path d="M542.1 1009.2 Q542.3 947 539.8 885 M535.2 897.6 L539.8 885 L547.4 896" fill="none" stroke="#4d4d4d" stroke-width="1.9" stroke-linecap="round" stroke-linejoin="round"/>
<path d="M584.9 963.2 Q586 925 591.8 902.9 M579.6 909.3 L591.8 902.9 L589.5 917" fill="none" stroke="#4d4d4d" stroke-width="1.9" stroke-linecap="round" stroke-linejoin="round"/>
</g>
<g id="pf">
<text x="865.0" y="724.3" font-size="54" font-weight="bold">f</text>
<text x="998.0" y="747.6" font-size="26.2">Enrichment of Hit Types at FDR Thresholds</text>
<text x="1145.2" y="773.2" font-size="26.2">Negative Interactions</text>
<rect x="1020.3" y="1135.4" width="32.3" height="27.7" fill="#66c2a5" stroke="#000" stroke-width="2.0"/>
<rect x="1020.3" y="1163.0" width="32.3" height="2.3" fill="#f98d63" stroke="#000" stroke-width="2.0"/>
<rect x="1056.9" y="1110.0" width="32.3" height="46.6" fill="#66c2a5" stroke="#000" stroke-width="2.0"/>
<rect x="1056.9" y="1156.5" width="32.3" height="8.8" fill="#f98d63" stroke="#000" stroke-width="2.0"/>
<text x="1070.8" y="1104.1" font-size="24.6" text-anchor="middle">97</text>
<rect x="1093.5" y="1048.4" width="32.3" height="97.4" fill="#66c2a5" stroke="#000" stroke-width="2.0"/>
<rect x="1093.5" y="1145.8" width="32.3" height="19.5" fill="#f98d63" stroke="#000" stroke-width="2.0"/>
<text x="1107.4" y="1042.5" font-size="24.6" text-anchor="middle">29</text>
<rect x="1130.1" y="988.9" width="32.3" height="141.2" fill="#66c2a5" stroke="#000" stroke-width="2.0"/>
<rect x="1130.1" y="1130.0" width="32.3" height="35.3" fill="#f98d63" stroke="#000" stroke-width="2.0"/>
<text x="1144.1" y="983.0" font-size="24.6" text-anchor="middle">16</text>
<rect x="1166.7" y="977.0" width="32.3" height="141.2" fill="#66c2a5" stroke="#000" stroke-width="2.0"/>
<rect x="1166.7" y="1118.2" width="32.3" height="47.1" fill="#f98d63" stroke="#000" stroke-width="2.0"/>
<text x="1180.7" y="971.1" font-size="24.6" text-anchor="middle">12</text>
<rect x="1203.3" y="963.7" width="32.3" height="161.2" fill="#66c2a5" stroke="#000" stroke-width="2.0"/>
<rect x="1203.3" y="1124.9" width="32.3" height="40.4" fill="#f98d63" stroke="#000" stroke-width="2.0"/>
<text x="1217.3" y="957.8" font-size="24.6" text-anchor="middle">7</text>
<rect x="1240.0" y="963.7" width="32.3" height="161.2" fill="#66c2a5" stroke="#000" stroke-width="2.0"/>
<rect x="1240.0" y="1124.9" width="32.3" height="40.4" fill="#f98d63" stroke="#000" stroke-width="2.0"/>
<text x="1253.9" y="957.8" font-size="24.6" text-anchor="middle">7</text>
<path d="M1007.2 854.4 V1180.1 H1285.4" fill="none" stroke="#000" stroke-width="1.9"/>
<rect x="1007.2" y="804.0" width="278.2" height="50.4" fill="#fff" stroke="#000" stroke-width="1.9"/>
<text x="1138.4" y="840.9" font-size="25.8" text-anchor="middle" fill="#1a1a1a">MOLM-13</text>
<line x1="1036.1" y1="1180.1" x2="1036.1" y2="1190.2" stroke="#1a1a1a" stroke-width="1.9"/>
<text x="1035.5" y="1219.3" font-size="25.6" text-anchor="middle" fill="#4d4d4d">0</text>
<line x1="1109.3" y1="1180.1" x2="1109.3" y2="1190.2" stroke="#1a1a1a" stroke-width="1.9"/>
<text x="1108.7" y="1219.3" font-size="25.6" text-anchor="middle" fill="#4d4d4d">2</text>
<line x1="1182.5" y1="1180.1" x2="1182.5" y2="1190.2" stroke="#1a1a1a" stroke-width="1.9"/>
<text x="1181.9" y="1219.3" font-size="25.6" text-anchor="middle" fill="#4d4d4d">4</text>
<line x1="1255.7" y1="1180.1" x2="1255.7" y2="1190.2" stroke="#1a1a1a" stroke-width="1.9"/>
<text x="1255.1" y="1219.3" font-size="25.6" text-anchor="middle" fill="#4d4d4d">6</text>
<rect x="1316.2" y="1139.2" width="32.3" height="25.0" fill="#66c2a5" stroke="#000" stroke-width="2.0"/>
<rect x="1316.2" y="1164.2" width="32.3" height="1.1" fill="#f98d63" stroke="#000" stroke-width="2.0"/>
<rect x="1352.9" y="1111.9" width="32.3" height="41.9" fill="#66c2a5" stroke="#000" stroke-width="2.0"/>
<rect x="1352.9" y="1153.9" width="32.3" height="11.4" fill="#f98d63" stroke="#000" stroke-width="2.0"/>
<text x="1366.8" y="1106.0" font-size="24.6" text-anchor="middle">74</text>
<rect x="1389.5" y="1057.7" width="32.3" height="80.7" fill="#66c2a5" stroke="#000" stroke-width="2.0"/>
<rect x="1389.5" y="1138.4" width="32.3" height="26.9" fill="#f98d63" stroke="#000" stroke-width="2.0"/>
<text x="1403.4" y="1051.8" font-size="24.6" text-anchor="middle">21</text>
<rect x="1426.1" y="995.9" width="32.3" height="112.9" fill="#66c2a5" stroke="#000" stroke-width="2.0"/>
<rect x="1426.1" y="1108.8" width="32.3" height="56.5" fill="#f98d63" stroke="#000" stroke-width="2.0"/>
<text x="1440.1" y="990.0" font-size="24.6" text-anchor="middle">10</text>
<rect x="1462.7" y="930.1" width="32.3" height="141.1" fill="#66c2a5" stroke="#000" stroke-width="2.0"/>
<rect x="1462.7" y="1071.2" width="32.3" height="94.1" fill="#f98d63" stroke="#000" stroke-width="2.0"/>
<text x="1476.7" y="924.2" font-size="24.6" text-anchor="middle">6</text>
<rect x="1499.3" y="939.5" width="32.3" height="112.9" fill="#66c2a5" stroke="#000" stroke-width="2.0"/>
<rect x="1499.3" y="1052.4" width="32.3" height="112.9" fill="#f98d63" stroke="#000" stroke-width="2.0"/>
<text x="1513.3" y="933.6" font-size="24.6" text-anchor="middle">5</text>
<rect x="1536.0" y="883.0" width="32.3" height="94.1" fill="#66c2a5" stroke="#000" stroke-width="2.0"/>
<rect x="1536.0" y="977.1" width="32.3" height="188.2" fill="#f98d63" stroke="#000" stroke-width="2.0"/>
<text x="1549.9" y="877.1" font-size="24.6" text-anchor="middle">3</text>
<path d="M1303.5 854.4 V1180.1 H1581.6" fill="none" stroke="#000" stroke-width="1.9"/>
<rect x="1303.5" y="804.0" width="278.1" height="50.4" fill="#fff" stroke="#000" stroke-width="1.9"/>
<text x="1437.5" y="840.9" font-size="25.8" text-anchor="middle" fill="#1a1a1a">NOMO-1</text>
<line x1="1332.1" y1="1180.1" x2="1332.1" y2="1190.2" stroke="#1a1a1a" stroke-width="1.9"/>
<text x="1331.5" y="1219.3" font-size="25.6" text-anchor="middle" fill="#4d4d4d">0</text>
<line x1="1405.3" y1="1180.1" x2="1405.3" y2="1190.2" stroke="#1a1a1a" stroke-width="1.9"/>
<text x="1404.7" y="1219.3" font-size="25.6" text-anchor="middle" fill="#4d4d4d">2</text>
<line x1="1478.5" y1="1180.1" x2="1478.5" y2="1190.2" stroke="#1a1a1a" stroke-width="1.9"/>
<text x="1477.9" y="1219.3" font-size="25.6" text-anchor="middle" fill="#4d4d4d">4</text>
<line x1="1551.7" y1="1180.1" x2="1551.7" y2="1190.2" stroke="#1a1a1a" stroke-width="1.9"/>
<text x="1551.1" y="1219.3" font-size="25.6" text-anchor="middle" fill="#4d4d4d">6</text>
<line x1="997.2" y1="883.0" x2="1007.2" y2="883.0" stroke="#1a1a1a" stroke-width="1.9"/>
<text x="981.5" y="891.0" font-size="25.6" text-anchor="end" fill="#4d4d4d">1</text>
<line x1="997.2" y1="953.6" x2="1007.2" y2="953.6" stroke="#1a1a1a" stroke-width="1.9"/>
<text x="981.5" y="961.6" font-size="25.6" text-anchor="end" fill="#4d4d4d">0.75</text>
<line x1="997.2" y1="1024.1" x2="1007.2" y2="1024.1" stroke="#1a1a1a" stroke-width="1.9"/>
<text x="981.5" y="1032.1" font-size="25.6" text-anchor="end" fill="#4d4d4d">0.50</text>
<line x1="997.2" y1="1094.7" x2="1007.2" y2="1094.7" stroke="#1a1a1a" stroke-width="1.9"/>
<text x="981.5" y="1102.7" font-size="25.6" text-anchor="end" fill="#4d4d4d">0.25</text>
<line x1="997.2" y1="1165.3" x2="1007.2" y2="1165.3" stroke="#1a1a1a" stroke-width="1.9"/>
<text x="981.5" y="1173.3" font-size="25.6" text-anchor="end" fill="#4d4d4d">0</text>
<text transform="translate(908.8 1021.6) rotate(-90)" font-size="26" text-anchor="middle">fraction</text>
<text x="1275.0" y="1264.0" font-size="26" text-anchor="middle">-log10(FDR)</text>
<text x="1652.5" y="989.2" font-size="26">hit_type</text>
<rect x="1653.1" y="1005.3" width="26.9" height="26.5" fill="#66c2a5" stroke="#000" stroke-width="2.0"/>
<rect x="1653.1" y="1042.6" width="26.9" height="26.3" fill="#f98d63" stroke="#000" stroke-width="2.0"/>
<text x="1693.0" y="1026.0" font-size="26">coessential</text>
<text x="1693.0" y="1063.3" font-size="26">same_gene</text>
</g>
<g id="pg">
<text x="-2.5" y="1359.3" font-size="54" font-weight="bold">g</text>
<text x="179.5" y="1387.1" font-size="22.3" fill="#262626">Genetic interaction z-score</text>
<g fill-opacity="0.6" stroke-opacity="0.55" stroke-width="0.9">
<circle cx="558.4" cy="1425.0" r="9" fill="#440154" stroke="#440154"/>
<circle cx="418.4" cy="1505.7" r="9" fill="#440154" stroke="#440154"/>
<circle cx="435.0" cy="1501.4" r="9" fill="#440154" stroke="#440154"/>
<circle cx="452.5" cy="1502.3" r="9" fill="#440154" stroke="#440154"/>
<circle cx="497.6" cy="1485.8" r="9" fill="#440154" stroke="#440154"/>
<circle cx="522.5" cy="1491.3" r="9" fill="#440154" stroke="#440154"/>
<circle cx="509.6" cy="1490.4" r="9" fill="#440154" stroke="#440154"/>
<circle cx="559.3" cy="1517.6" r="9" fill="#440154" stroke="#440154"/>
<circle cx="547.3" cy="1519.0" r="9" fill="#440154" stroke="#440154"/>
<circle cx="538.0" cy="1509.7" r="9" fill="#440154" stroke="#440154"/>
<circle cx="371.4" cy="1552.0" r="9" fill="#440154" stroke="#440154"/>
<circle cx="382.5" cy="1587.4" r="9" fill="#440154" stroke="#440154"/>
<circle cx="405.5" cy="1574.2" r="9" fill="#440154" stroke="#440154"/>
<circle cx="372.7" cy="1604.6" r="9" fill="#440154" stroke="#440154"/>
<circle cx="378.8" cy="1633.5" r="9" fill="#440154" stroke="#440154"/>
<circle cx="401.3" cy="1612.0" r="9" fill="#440154" stroke="#440154"/>
<circle cx="417.5" cy="1595.3" r="9" fill="#440154" stroke="#440154"/>
<circle cx="420.2" cy="1621.7" r="9" fill="#440154" stroke="#440154"/>
<circle cx="444.2" cy="1627.6" r="9" fill="#440154" stroke="#440154"/>
<circle cx="458.4" cy="1634.9" r="9" fill="#440154" stroke="#440154"/>
<circle cx="437.7" cy="1623.9" r="9" fill="#440154" stroke="#440154"/>
<circle cx="482.9" cy="1617.4" r="9" fill="#440154" stroke="#440154"/>
<circle cx="492.0" cy="1605.5" r="9" fill="#440154" stroke="#440154"/>
<circle cx="507.7" cy="1589.8" r="9" fill="#440154" stroke="#440154"/>
<circle cx="523.4" cy="1572.3" r="9" fill="#440154" stroke="#440154"/>
<circle cx="538.0" cy="1566.8" r="9" fill="#440154" stroke="#440154"/>
<circle cx="544.6" cy="1550.2" r="9" fill="#440154" stroke="#440154"/>
<circle cx="541.8" cy="1535.5" r="9" fill="#440154" stroke="#440154"/>
<circle cx="420.2" cy="1550.2" r="9" fill="#440154" stroke="#440154"/>
<circle cx="429.4" cy="1541.0" r="9" fill="#440154" stroke="#440154"/>
<circle cx="179.6" cy="1587.8" r="9" fill="#440154" stroke="#440154"/>
<circle cx="441.4" cy="1795.3" r="9" fill="#440154" stroke="#440154"/>
<circle cx="463.2" cy="1612.9" r="9" fill="#440254" stroke="#440254"/>
<circle cx="534.1" cy="1539.4" r="9" fill="#440255" stroke="#440255"/>
<circle cx="431.0" cy="1531.0" r="9" fill="#440255" stroke="#440255"/>
<circle cx="451.9" cy="1608.7" r="9" fill="#440255" stroke="#440255"/>
<circle cx="508.7" cy="1504.3" r="9" fill="#440255" stroke="#440255"/>
<circle cx="534.3" cy="1546.3" r="9" fill="#440255" stroke="#440255"/>
<circle cx="533.1" cy="1538.2" r="9" fill="#440255" stroke="#440255"/>
<circle cx="467.8" cy="1502.7" r="9" fill="#440255" stroke="#440255"/>
<circle cx="468.5" cy="1610.7" r="9" fill="#440255" stroke="#440255"/>
<circle cx="423.3" cy="1568.3" r="9" fill="#440255" stroke="#440255"/>
<circle cx="526.8" cy="1524.3" r="9" fill="#440255" stroke="#440255"/>
<circle cx="458.5" cy="1608.7" r="9" fill="#440255" stroke="#440255"/>
<circle cx="517.4" cy="1513.1" r="9" fill="#440355" stroke="#440355"/>
<circle cx="468.4" cy="1609.4" r="9" fill="#440355" stroke="#440355"/>
<circle cx="499.0" cy="1503.5" r="9" fill="#440355" stroke="#440355"/>
<circle cx="503.6" cy="1505.2" r="9" fill="#440356" stroke="#440356"/>
<circle cx="517.4" cy="1514.2" r="9" fill="#440356" stroke="#440356"/>
<circle cx="460.2" cy="1508.5" r="9" fill="#440356" stroke="#440356"/>
<circle cx="432.8" cy="1589.5" r="9" fill="#440356" stroke="#440356"/>
<circle cx="524.1" cy="1523.1" r="9" fill="#440356" stroke="#440356"/>
<circle cx="426.0" cy="1572.5" r="9" fill="#440356" stroke="#440356"/>
<circle cx="427.0" cy="1549.4" r="9" fill="#440356" stroke="#440356"/>
<circle cx="510.3" cy="1509.6" r="9" fill="#440356" stroke="#440356"/>
<circle cx="478.5" cy="1607.4" r="9" fill="#440356" stroke="#440356"/>
<circle cx="484.7" cy="1503.0" r="9" fill="#440356" stroke="#440356"/>
<circle cx="518.2" cy="1582.9" r="9" fill="#440356" stroke="#440356"/>
<circle cx="530.1" cy="1551.5" r="9" fill="#440456" stroke="#440456"/>
<circle cx="523.1" cy="1523.0" r="9" fill="#440456" stroke="#440456"/>
<circle cx="426.4" cy="1568.0" r="9" fill="#440456" stroke="#440456"/>
<circle cx="437.4" cy="1593.2" r="9" fill="#440457" stroke="#440457"/>
<circle cx="498.2" cy="1599.8" r="9" fill="#440457" stroke="#440457"/>
<circle cx="490.9" cy="1603.3" r="9" fill="#440457" stroke="#440457"/>
<circle cx="426.6" cy="1558.8" r="9" fill="#440457" stroke="#440457"/>
<circle cx="426.5" cy="1561.1" r="9" fill="#440457" stroke="#440457"/>
<circle cx="517.3" cy="1582.8" r="9" fill="#440457" stroke="#440457"/>
<circle cx="449.5" cy="1517.2" r="9" fill="#440457" stroke="#440457"/>
<circle cx="430.8" cy="1542.3" r="9" fill="#440457" stroke="#440457"/>
<circle cx="496.8" cy="1505.6" r="9" fill="#440457" stroke="#440457"/>
<circle cx="436.2" cy="1590.8" r="9" fill="#440457" stroke="#440457"/>
<circle cx="523.0" cy="1572.6" r="9" fill="#440557" stroke="#440557"/>
<circle cx="528.8" cy="1548.7" r="9" fill="#440557" stroke="#440557"/>
<circle cx="470.6" cy="1606.2" r="9" fill="#440557" stroke="#440557"/>
<circle cx="523.2" cy="1526.4" r="9" fill="#440557" stroke="#440557"/>
<circle cx="456.7" cy="1513.1" r="9" fill="#440557" stroke="#440557"/>
<circle cx="511.4" cy="1513.2" r="9" fill="#440557" stroke="#440557"/>
<circle cx="435.4" cy="1588.4" r="9" fill="#440558" stroke="#440558"/>
<circle cx="526.5" cy="1534.7" r="9" fill="#440558" stroke="#440558"/>
<circle cx="450.6" cy="1601.3" r="9" fill="#440558" stroke="#440558"/>
<circle cx="503.3" cy="1509.0" r="9" fill="#440558" stroke="#440558"/>
<circle cx="519.9" cy="1576.6" r="9" fill="#440558" stroke="#440558"/>
<circle cx="428.1" cy="1558.4" r="9" fill="#440558" stroke="#440558"/>
<circle cx="446.7" cy="1598.6" r="9" fill="#440558" stroke="#440558"/>
<circle cx="430.4" cy="1577.6" r="9" fill="#440658" stroke="#440658"/>
<circle cx="437.6" cy="1532.2" r="9" fill="#440658" stroke="#440658"/>
<circle cx="522.9" cy="1570.5" r="9" fill="#440658" stroke="#440658"/>
<circle cx="479.5" cy="1604.5" r="9" fill="#440658" stroke="#440658"/>
<circle cx="429.0" cy="1554.4" r="9" fill="#440658" stroke="#440658"/>
<circle cx="506.5" cy="1511.1" r="9" fill="#440658" stroke="#440658"/>
<circle cx="497.2" cy="1507.4" r="9" fill="#440658" stroke="#440658"/>
<circle cx="470.1" cy="1605.2" r="9" fill="#440658" stroke="#440658"/>
<circle cx="471.5" cy="1605.1" r="9" fill="#440658" stroke="#440658"/>
<circle cx="525.9" cy="1536.0" r="9" fill="#440658" stroke="#440658"/>
<circle cx="475.7" cy="1506.9" r="9" fill="#440659" stroke="#440659"/>
<circle cx="527.2" cy="1553.3" r="9" fill="#440659" stroke="#440659"/>
<circle cx="524.6" cy="1532.8" r="9" fill="#440659" stroke="#440659"/>
<circle cx="429.3" cy="1570.2" r="9" fill="#440659" stroke="#440659"/>
<circle cx="437.9" cy="1589.5" r="9" fill="#440659" stroke="#440659"/>
<circle cx="440.9" cy="1528.8" r="9" fill="#440659" stroke="#440659"/>
<circle cx="431.0" cy="1576.6" r="9" fill="#440659" stroke="#440659"/>
<circle cx="465.2" cy="1510.4" r="9" fill="#440759" stroke="#440759"/>
<circle cx="475.1" cy="1507.5" r="9" fill="#440759" stroke="#440759"/>
<circle cx="494.2" cy="1599.0" r="9" fill="#440759" stroke="#440759"/>
<circle cx="447.9" cy="1598.0" r="9" fill="#440759" stroke="#440759"/>
<circle cx="507.5" cy="1512.8" r="9" fill="#440759" stroke="#440759"/>
<circle cx="436.7" cy="1586.9" r="9" fill="#440759" stroke="#440759"/>
<circle cx="463.2" cy="1603.5" r="9" fill="#44075a" stroke="#44075a"/>
<circle cx="488.1" cy="1507.0" r="9" fill="#44075a" stroke="#44075a"/>
<circle cx="513.6" cy="1517.7" r="9" fill="#44075a" stroke="#44075a"/>
<circle cx="512.5" cy="1516.9" r="9" fill="#44085a" stroke="#44085a"/>
<circle cx="449.2" cy="1598.1" r="9" fill="#44085a" stroke="#44085a"/>
<circle cx="511.6" cy="1585.1" r="9" fill="#44085a" stroke="#44085a"/>
<circle cx="430.3" cy="1555.1" r="9" fill="#44085a" stroke="#44085a"/>
<circle cx="456.7" cy="1515.8" r="9" fill="#44085a" stroke="#44085a"/>
<circle cx="490.5" cy="1507.7" r="9" fill="#44085a" stroke="#44085a"/>
<circle cx="517.7" cy="1576.8" r="9" fill="#44085a" stroke="#44085a"/>
<circle cx="486.2" cy="1601.2" r="9" fill="#45085a" stroke="#45085a"/>
<circle cx="480.8" cy="1507.9" r="9" fill="#45095b" stroke="#45095b"/>
<circle cx="524.8" cy="1539.7" r="9" fill="#45095b" stroke="#45095b"/>
<circle cx="510.1" cy="1516.0" r="9" fill="#45095b" stroke="#45095b"/>
<circle cx="486.5" cy="1600.6" r="9" fill="#45095b" stroke="#45095b"/>
<circle cx="461.1" cy="1514.1" r="9" fill="#45095b" stroke="#45095b"/>
<circle cx="439.1" cy="1534.3" r="9" fill="#45095b" stroke="#45095b"/>
<circle cx="480.5" cy="1508.4" r="9" fill="#45095b" stroke="#45095b"/>
<circle cx="442.2" cy="1591.2" r="9" fill="#45095c" stroke="#45095c"/>
<circle cx="523.8" cy="1537.6" r="9" fill="#450a5c" stroke="#450a5c"/>
<circle cx="433.9" cy="1545.3" r="9" fill="#450a5c" stroke="#450a5c"/>
<circle cx="444.5" cy="1593.1" r="9" fill="#450a5c" stroke="#450a5c"/>
<circle cx="471.0" cy="1602.6" r="9" fill="#450a5c" stroke="#450a5c"/>
<circle cx="431.1" cy="1559.6" r="9" fill="#450a5c" stroke="#450a5c"/>
<circle cx="449.0" cy="1596.2" r="9" fill="#450a5c" stroke="#450a5c"/>
<circle cx="473.0" cy="1602.4" r="9" fill="#450a5c" stroke="#450a5c"/>
<circle cx="457.6" cy="1516.7" r="9" fill="#450a5c" stroke="#450a5c"/>
<circle cx="449.0" cy="1596.0" r="9" fill="#450a5c" stroke="#450a5c"/>
<circle cx="512.3" cy="1582.0" r="9" fill="#450a5c" stroke="#450a5c"/>
<circle cx="472.3" cy="1510.4" r="9" fill="#450b5d" stroke="#450b5d"/>
<circle cx="513.9" cy="1579.9" r="9" fill="#450b5d" stroke="#450b5d"/>
<circle cx="473.3" cy="1602.2" r="9" fill="#450b5d" stroke="#450b5d"/>
<circle cx="440.0" cy="1534.2" r="9" fill="#450b5d" stroke="#450b5d"/>
<circle cx="471.4" cy="1510.8" r="9" fill="#450b5d" stroke="#450b5d"/>
<circle cx="521.8" cy="1564.9" r="9" fill="#450b5d" stroke="#450b5d"/>
<circle cx="524.0" cy="1541.4" r="9" fill="#450b5d" stroke="#450b5d"/>
<circle cx="462.1" cy="1601.0" r="9" fill="#450b5d" stroke="#450b5d"/>
<circle cx="512.2" cy="1581.6" r="9" fill="#450b5d" stroke="#450b5d"/>
<circle cx="508.7" cy="1585.5" r="9" fill="#450b5d" stroke="#450b5d"/>
<circle cx="433.4" cy="1574.1" r="9" fill="#450c5d" stroke="#450c5d"/>
<circle cx="516.4" cy="1524.4" r="9" fill="#450c5d" stroke="#450c5d"/>
<circle cx="461.2" cy="1600.5" r="9" fill="#450c5d" stroke="#450c5d"/>
<circle cx="463.1" cy="1600.9" r="9" fill="#450c5e" stroke="#450c5e"/>
<circle cx="448.7" cy="1524.4" r="9" fill="#450c5e" stroke="#450c5e"/>
<circle cx="492.2" cy="1596.9" r="9" fill="#450c5e" stroke="#450c5e"/>
<circle cx="473.7" cy="1510.7" r="9" fill="#450c5e" stroke="#450c5e"/>
<circle cx="516.9" cy="1574.0" r="9" fill="#450d5e" stroke="#450d5e"/>
<circle cx="486.8" cy="1598.7" r="9" fill="#450d5e" stroke="#450d5e"/>
<circle cx="432.5" cy="1567.2" r="9" fill="#450d5e" stroke="#450d5e"/>
<circle cx="516.3" cy="1525.2" r="9" fill="#450d5e" stroke="#450d5e"/>
<circle cx="517.3" cy="1573.2" r="9" fill="#450d5e" stroke="#450d5e"/>
<circle cx="440.0" cy="1586.1" r="9" fill="#450d5e" stroke="#450d5e"/>
<circle cx="495.2" cy="1511.1" r="9" fill="#450d5e" stroke="#450d5e"/>
<circle cx="488.1" cy="1598.2" r="9" fill="#450d5f" stroke="#450d5f"/>
<circle cx="519.7" cy="1568.0" r="9" fill="#450d5f" stroke="#450d5f"/>
<circle cx="521.4" cy="1563.3" r="9" fill="#450d5f" stroke="#450d5f"/>
<circle cx="513.2" cy="1579.1" r="9" fill="#450d5f" stroke="#450d5f"/>
<circle cx="489.8" cy="1510.2" r="9" fill="#450d5f" stroke="#450d5f"/>
<circle cx="522.9" cy="1556.3" r="9" fill="#450e5f" stroke="#450e5f"/>
<circle cx="487.7" cy="1510.1" r="9" fill="#450e5f" stroke="#450e5f"/>
<circle cx="462.4" cy="1515.5" r="9" fill="#450e5f" stroke="#450e5f"/>
<circle cx="520.9" cy="1564.1" r="9" fill="#450e5f" stroke="#450e5f"/>
<circle cx="503.5" cy="1589.0" r="9" fill="#450e5f" stroke="#450e5f"/>
<circle cx="492.5" cy="1595.9" r="9" fill="#450e5f" stroke="#450e5f"/>
<circle cx="445.1" cy="1591.1" r="9" fill="#450e5f" stroke="#450e5f"/>
<circle cx="521.2" cy="1536.1" r="9" fill="#450e60" stroke="#450e60"/>
<circle cx="486.6" cy="1598.2" r="9" fill="#450e60" stroke="#450e60"/>
<circle cx="477.6" cy="1600.2" r="9" fill="#450e60" stroke="#450e60"/>
<circle cx="515.5" cy="1574.9" r="9" fill="#450f60" stroke="#450f60"/>
<circle cx="474.1" cy="1511.6" r="9" fill="#450f60" stroke="#450f60"/>
<circle cx="472.5" cy="1512.0" r="9" fill="#450f60" stroke="#450f60"/>
<circle cx="447.9" cy="1592.9" r="9" fill="#450f60" stroke="#450f60"/>
<circle cx="516.4" cy="1526.7" r="9" fill="#450f60" stroke="#450f60"/>
<circle cx="520.5" cy="1534.8" r="9" fill="#450f60" stroke="#450f60"/>
<circle cx="447.8" cy="1592.6" r="9" fill="#450f61" stroke="#450f61"/>
<circle cx="517.6" cy="1570.6" r="9" fill="#450f61" stroke="#450f61"/>
<circle cx="445.9" cy="1529.4" r="9" fill="#451061" stroke="#451061"/>
<circle cx="478.8" cy="1511.4" r="9" fill="#451062" stroke="#451062"/>
<circle cx="513.9" cy="1524.3" r="9" fill="#451062" stroke="#451062"/>
<circle cx="493.3" cy="1512.0" r="9" fill="#451162" stroke="#451162"/>
<circle cx="441.7" cy="1585.9" r="9" fill="#451162" stroke="#451162"/>
<circle cx="442.9" cy="1533.6" r="9" fill="#451162" stroke="#451162"/>
<circle cx="465.8" cy="1599.5" r="9" fill="#451162" stroke="#451162"/>
<circle cx="499.4" cy="1514.1" r="9" fill="#451162" stroke="#451162"/>
<circle cx="434.0" cy="1564.5" r="9" fill="#451162" stroke="#451162"/>
<circle cx="505.1" cy="1586.1" r="9" fill="#451163" stroke="#451163"/>
<circle cx="482.5" cy="1598.3" r="9" fill="#451163" stroke="#451163"/>
<circle cx="461.8" cy="1598.3" r="9" fill="#451263" stroke="#451263"/>
<circle cx="463.7" cy="1516.4" r="9" fill="#451263" stroke="#451263"/>
<circle cx="468.3" cy="1599.3" r="9" fill="#451263" stroke="#451263"/>
<circle cx="439.6" cy="1581.9" r="9" fill="#451263" stroke="#451263"/>
<circle cx="520.7" cy="1558.7" r="9" fill="#451364" stroke="#451364"/>
<circle cx="437.6" cy="1544.7" r="9" fill="#451364" stroke="#451364"/>
<circle cx="463.6" cy="1516.8" r="9" fill="#451364" stroke="#451364"/>
<circle cx="518.6" cy="1565.6" r="9" fill="#451364" stroke="#451364"/>
<circle cx="516.1" cy="1529.1" r="9" fill="#451364" stroke="#451364"/>
<circle cx="521.5" cy="1551.1" r="9" fill="#451364" stroke="#451364"/>
<circle cx="434.8" cy="1556.1" r="9" fill="#451364" stroke="#451364"/>
<circle cx="454.1" cy="1522.9" r="9" fill="#451364" stroke="#451364"/>
<circle cx="509.9" cy="1580.1" r="9" fill="#451465" stroke="#451465"/>
<circle cx="486.2" cy="1512.2" r="9" fill="#451465" stroke="#451465"/>
<circle cx="440.7" cy="1582.7" r="9" fill="#451465" stroke="#451465"/>
<circle cx="493.6" cy="1593.3" r="9" fill="#451465" stroke="#451465"/>
<circle cx="510.0" cy="1579.8" r="9" fill="#451465" stroke="#451465"/>
<circle cx="485.9" cy="1512.3" r="9" fill="#451465" stroke="#451465"/>
<circle cx="454.0" cy="1594.5" r="9" fill="#451465" stroke="#451465"/>
<circle cx="459.9" cy="1519.3" r="9" fill="#451565" stroke="#451565"/>
<circle cx="435.2" cy="1557.0" r="9" fill="#451566" stroke="#451566"/>
<circle cx="507.6" cy="1582.3" r="9" fill="#451566" stroke="#451566"/>
<circle cx="440.4" cy="1540.2" r="9" fill="#451566" stroke="#451566"/>
<circle cx="454.8" cy="1594.5" r="9" fill="#451666" stroke="#451666"/>
<circle cx="519.5" cy="1538.6" r="9" fill="#451666" stroke="#451666"/>
<circle cx="514.7" cy="1572.3" r="9" fill="#451666" stroke="#451666"/>
<circle cx="465.2" cy="1516.9" r="9" fill="#451666" stroke="#451666"/>
<circle cx="467.4" cy="1516.1" r="9" fill="#451667" stroke="#451667"/>
<circle cx="509.9" cy="1579.0" r="9" fill="#451667" stroke="#451667"/>
<circle cx="498.8" cy="1515.6" r="9" fill="#451667" stroke="#451667"/>
<circle cx="520.4" cy="1545.1" r="9" fill="#461767" stroke="#461767"/>
<circle cx="512.6" cy="1525.9" r="9" fill="#461767" stroke="#461767"/>
<circle cx="481.1" cy="1513.1" r="9" fill="#461768" stroke="#461768"/>
<circle cx="508.8" cy="1580.1" r="9" fill="#461768" stroke="#461768"/>
<circle cx="466.3" cy="1597.6" r="9" fill="#461768" stroke="#461768"/>
<circle cx="435.9" cy="1555.6" r="9" fill="#461768" stroke="#461768"/>
<circle cx="488.7" cy="1594.6" r="9" fill="#461868" stroke="#461868"/>
<circle cx="514.7" cy="1529.2" r="9" fill="#461868" stroke="#461868"/>
<circle cx="498.0" cy="1516.0" r="9" fill="#461969" stroke="#461969"/>
<circle cx="505.6" cy="1582.8" r="9" fill="#461a6a" stroke="#461a6a"/>
<circle cx="486.6" cy="1594.8" r="9" fill="#461a6a" stroke="#461a6a"/>
<circle cx="442.6" cy="1582.6" r="9" fill="#461a6a" stroke="#461a6a"/>
<circle cx="499.1" cy="1516.9" r="9" fill="#461b6b" stroke="#461b6b"/>
<circle cx="486.5" cy="1514.0" r="9" fill="#461b6b" stroke="#461b6b"/>
<circle cx="437.4" cy="1570.2" r="9" fill="#461b6b" stroke="#461b6b"/>
<circle cx="438.0" cy="1572.1" r="9" fill="#461c6b" stroke="#461c6b"/>
<circle cx="438.8" cy="1574.4" r="9" fill="#461c6c" stroke="#461c6c"/>
<circle cx="438.3" cy="1572.9" r="9" fill="#461c6c" stroke="#461c6c"/>
<circle cx="463.5" cy="1519.2" r="9" fill="#461c6c" stroke="#461c6c"/>
<circle cx="512.6" cy="1528.2" r="9" fill="#461c6c" stroke="#461c6c"/>
<circle cx="452.6" cy="1591.3" r="9" fill="#461d6c" stroke="#461d6c"/>
<circle cx="461.1" cy="1520.9" r="9" fill="#461e6d" stroke="#461e6d"/>
<circle cx="519.0" cy="1547.0" r="9" fill="#461e6d" stroke="#461e6d"/>
<circle cx="507.8" cy="1579.2" r="9" fill="#461e6d" stroke="#461e6d"/>
<circle cx="518.3" cy="1542.5" r="9" fill="#461e6e" stroke="#461e6e"/>
<circle cx="441.2" cy="1542.9" r="9" fill="#461e6e" stroke="#461e6e"/>
<circle cx="465.9" cy="1518.6" r="9" fill="#461e6e" stroke="#461e6e"/>
<circle cx="500.7" cy="1518.6" r="9" fill="#461e6e" stroke="#461e6e"/>
<circle cx="485.7" cy="1594.1" r="9" fill="#461e6e" stroke="#461e6e"/>
<circle cx="490.9" cy="1515.3" r="9" fill="#461f6e" stroke="#461f6e"/>
<circle cx="516.0" cy="1564.5" r="9" fill="#46206f" stroke="#46206f"/>
<circle cx="477.3" cy="1515.4" r="9" fill="#46206f" stroke="#46206f"/>
<circle cx="457.2" cy="1593.0" r="9" fill="#46206f" stroke="#46206f"/>
<circle cx="446.8" cy="1585.7" r="9" fill="#46206f" stroke="#46206f"/>
<circle cx="437.8" cy="1566.6" r="9" fill="#46206f" stroke="#46206f"/>
<circle cx="457.4" cy="1593.1" r="9" fill="#46206f" stroke="#46206f"/>
<circle cx="506.1" cy="1580.4" r="9" fill="#462070" stroke="#462070"/>
<circle cx="452.9" cy="1590.6" r="9" fill="#462070" stroke="#462070"/>
<circle cx="481.8" cy="1515.0" r="9" fill="#462070" stroke="#462070"/>
<circle cx="441.9" cy="1578.8" r="9" fill="#462170" stroke="#462170"/>
<circle cx="512.6" cy="1529.8" r="9" fill="#462170" stroke="#462170"/>
<circle cx="484.2" cy="1594.1" r="9" fill="#462170" stroke="#462170"/>
<circle cx="507.2" cy="1523.7" r="9" fill="#462171" stroke="#462171"/>
<circle cx="461.5" cy="1521.5" r="9" fill="#462271" stroke="#462271"/>
<circle cx="483.7" cy="1515.3" r="9" fill="#462271" stroke="#462271"/>
<circle cx="499.7" cy="1585.8" r="9" fill="#462372" stroke="#462372"/>
<circle cx="517.5" cy="1556.6" r="9" fill="#462372" stroke="#462372"/>
<circle cx="450.0" cy="1531.4" r="9" fill="#462473" stroke="#462473"/>
<circle cx="498.2" cy="1586.6" r="9" fill="#462473" stroke="#462473"/>
<circle cx="464.0" cy="1520.8" r="9" fill="#472574" stroke="#472574"/>
<circle cx="501.6" cy="1583.5" r="9" fill="#472674" stroke="#472674"/>
<circle cx="438.7" cy="1565.5" r="9" fill="#472675" stroke="#472675"/>
<circle cx="448.7" cy="1585.9" r="9" fill="#472675" stroke="#472675"/>
<circle cx="443.9" cy="1540.8" r="9" fill="#472675" stroke="#472675"/>
<circle cx="462.0" cy="1522.2" r="9" fill="#472775" stroke="#472775"/>
<circle cx="507.9" cy="1576.6" r="9" fill="#472775" stroke="#472775"/>
<circle cx="495.3" cy="1518.1" r="9" fill="#472776" stroke="#472776"/>
<circle cx="445.4" cy="1581.7" r="9" fill="#472877" stroke="#472877"/>
<circle cx="471.1" cy="1594.6" r="9" fill="#472877" stroke="#472877"/>
<circle cx="449.9" cy="1586.4" r="9" fill="#472977" stroke="#472977"/>
<circle cx="516.5" cy="1556.6" r="9" fill="#472977" stroke="#472977"/>
<circle cx="513.3" cy="1533.9" r="9" fill="#472977" stroke="#472977"/>
<circle cx="439.6" cy="1567.5" r="9" fill="#472978" stroke="#472978"/>
<circle cx="440.9" cy="1572.2" r="9" fill="#472a78" stroke="#472a78"/>
<circle cx="514.8" cy="1537.8" r="9" fill="#472a78" stroke="#472a78"/>
<circle cx="466.1" cy="1520.6" r="9" fill="#472a78" stroke="#472a78"/>
<circle cx="448.0" cy="1584.2" r="9" fill="#472a79" stroke="#472a79"/>
<circle cx="440.0" cy="1553.3" r="9" fill="#472b79" stroke="#472b79"/>
<circle cx="447.8" cy="1535.7" r="9" fill="#472b79" stroke="#472b79"/>
<circle cx="496.7" cy="1586.4" r="9" fill="#472b79" stroke="#472b79"/>
<circle cx="441.4" cy="1548.1" r="9" fill="#472b79" stroke="#472b79"/>
<circle cx="513.9" cy="1564.7" r="9" fill="#472b79" stroke="#472b79"/>
<circle cx="451.2" cy="1587.0" r="9" fill="#472b79" stroke="#472b79"/>
<circle cx="447.0" cy="1537.0" r="9" fill="#472b79" stroke="#472b79"/>
<circle cx="443.3" cy="1577.1" r="9" fill="#472c7a" stroke="#472c7a"/>
<circle cx="439.7" cy="1557.3" r="9" fill="#472c7a" stroke="#472c7a"/>
<circle cx="439.6" cy="1562.6" r="9" fill="#472d7a" stroke="#472d7a"/>
<circle cx="442.6" cy="1546.2" r="9" fill="#472d7b" stroke="#472d7b"/>
<circle cx="513.8" cy="1537.0" r="9" fill="#462e7b" stroke="#462e7b"/>
<circle cx="440.0" cy="1557.2" r="9" fill="#462e7b" stroke="#462e7b"/>
<circle cx="505.7" cy="1577.4" r="9" fill="#462e7b" stroke="#462e7b"/>
<circle cx="439.9" cy="1559.7" r="9" fill="#462f7b" stroke="#462f7b"/>
<circle cx="440.2" cy="1561.9" r="9" fill="#46307c" stroke="#46307c"/>
<circle cx="497.6" cy="1520.9" r="9" fill="#45327d" stroke="#45327d"/>
<circle cx="504.9" cy="1525.8" r="9" fill="#45327d" stroke="#45327d"/>
<circle cx="512.7" cy="1536.5" r="9" fill="#45327d" stroke="#45327d"/>
<circle cx="492.5" cy="1519.4" r="9" fill="#45337d" stroke="#45337d"/>
<circle cx="504.9" cy="1577.3" r="9" fill="#45337d" stroke="#45337d"/>
<circle cx="504.9" cy="1526.1" r="9" fill="#45347d" stroke="#45347d"/>
<circle cx="441.9" cy="1551.5" r="9" fill="#45347e" stroke="#45347e"/>
<circle cx="463.2" cy="1591.4" r="9" fill="#44347e" stroke="#44347e"/>
<circle cx="514.6" cy="1556.0" r="9" fill="#44357e" stroke="#44357e"/>
<circle cx="483.7" cy="1590.9" r="9" fill="#44357e" stroke="#44357e"/>
<circle cx="443.3" cy="1572.9" r="9" fill="#44367f" stroke="#44367f"/>
<circle cx="450.6" cy="1583.7" r="9" fill="#43377f" stroke="#43377f"/>
<circle cx="442.6" cy="1550.8" r="9" fill="#43377f" stroke="#43377f"/>
<circle cx="498.8" cy="1522.8" r="9" fill="#433880" stroke="#433880"/>
<circle cx="493.5" cy="1520.6" r="9" fill="#433980" stroke="#433980"/>
<circle cx="511.3" cy="1536.1" r="9" fill="#433980" stroke="#433980"/>
<circle cx="499.6" cy="1581.3" r="9" fill="#433a80" stroke="#433a80"/>
<circle cx="472.0" cy="1520.9" r="9" fill="#423a80" stroke="#423a80"/>
<circle cx="446.6" cy="1578.0" r="9" fill="#423a81" stroke="#423a81"/>
<circle cx="445.4" cy="1544.5" r="9" fill="#423a81" stroke="#423a81"/>
<circle cx="442.6" cy="1552.9" r="9" fill="#423b81" stroke="#423b81"/>
<circle cx="459.3" cy="1527.5" r="9" fill="#423b81" stroke="#423b81"/>
<circle cx="511.9" cy="1563.1" r="9" fill="#423b81" stroke="#423b81"/>
<circle cx="507.0" cy="1530.1" r="9" fill="#423c81" stroke="#423c81"/>
<circle cx="456.6" cy="1529.8" r="9" fill="#423c81" stroke="#423c81"/>
<circle cx="473.5" cy="1520.8" r="9" fill="#423d82" stroke="#423d82"/>
<circle cx="504.6" cy="1527.8" r="9" fill="#413d82" stroke="#413d82"/>
<circle cx="500.1" cy="1524.4" r="9" fill="#413d82" stroke="#413d82"/>
<circle cx="446.2" cy="1543.8" r="9" fill="#413e82" stroke="#413e82"/>
<circle cx="499.7" cy="1580.6" r="9" fill="#413e82" stroke="#413e82"/>
<circle cx="492.4" cy="1585.9" r="9" fill="#413e82" stroke="#413e82"/>
<circle cx="449.7" cy="1538.5" r="9" fill="#404183" stroke="#404183"/>
<circle cx="447.1" cy="1542.7" r="9" fill="#404183" stroke="#404183"/>
<circle cx="443.6" cy="1552.8" r="9" fill="#404184" stroke="#404184"/>
<circle cx="444.5" cy="1571.4" r="9" fill="#404284" stroke="#404284"/>
<circle cx="489.8" cy="1586.7" r="9" fill="#404284" stroke="#404284"/>
<circle cx="442.9" cy="1562.0" r="9" fill="#404385" stroke="#404385"/>
<circle cx="452.2" cy="1535.6" r="9" fill="#404385" stroke="#404385"/>
<circle cx="474.7" cy="1521.4" r="9" fill="#404385" stroke="#404385"/>
<circle cx="444.5" cy="1550.0" r="9" fill="#3f4385" stroke="#3f4385"/>
<circle cx="443.5" cy="1566.5" r="9" fill="#3f4385" stroke="#3f4385"/>
<circle cx="443.1" cy="1560.0" r="9" fill="#3f4485" stroke="#3f4485"/>
<circle cx="461.4" cy="1588.0" r="9" fill="#3e4786" stroke="#3e4786"/>
<circle cx="443.7" cy="1565.5" r="9" fill="#3e4786" stroke="#3e4786"/>
<circle cx="465.5" cy="1589.2" r="9" fill="#3e4786" stroke="#3e4786"/>
<circle cx="463.2" cy="1526.8" r="9" fill="#3e4887" stroke="#3e4887"/>
<circle cx="509.9" cy="1563.6" r="9" fill="#3e4987" stroke="#3e4987"/>
<circle cx="510.8" cy="1560.9" r="9" fill="#3e4987" stroke="#3e4987"/>
<circle cx="456.2" cy="1532.6" r="9" fill="#3d4b88" stroke="#3d4b88"/>
<circle cx="467.2" cy="1588.9" r="9" fill="#3d4c89" stroke="#3d4c89"/>
<circle cx="483.7" cy="1521.6" r="9" fill="#3c4d89" stroke="#3c4d89"/>
<circle cx="447.5" cy="1545.3" r="9" fill="#3c4d89" stroke="#3c4d89"/>
<circle cx="491.3" cy="1522.8" r="9" fill="#3c4d89" stroke="#3c4d89"/>
<circle cx="464.0" cy="1527.0" r="9" fill="#3c4d89" stroke="#3c4d89"/>
<circle cx="487.6" cy="1522.2" r="9" fill="#3c4f8a" stroke="#3c4f8a"/>
<circle cx="496.0" cy="1580.9" r="9" fill="#3b508a" stroke="#3b508a"/>
<circle cx="508.1" cy="1536.9" r="9" fill="#3b518b" stroke="#3b518b"/>
<circle cx="511.1" cy="1547.6" r="9" fill="#3b528b" stroke="#3b528b"/>
<circle cx="476.5" cy="1588.5" r="9" fill="#3a528b" stroke="#3a528b"/>
<circle cx="455.0" cy="1535.2" r="9" fill="#3a538b" stroke="#3a538b"/>
<circle cx="463.5" cy="1587.0" r="9" fill="#3a538b" stroke="#3a538b"/>
<circle cx="505.3" cy="1533.1" r="9" fill="#3a538b" stroke="#3a538b"/>
<circle cx="510.8" cy="1546.6" r="9" fill="#3a538b" stroke="#3a538b"/>
<circle cx="473.5" cy="1588.6" r="9" fill="#3a538b" stroke="#3a538b"/>
<circle cx="504.8" cy="1532.6" r="9" fill="#3a548b" stroke="#3a548b"/>
<circle cx="486.6" cy="1522.8" r="9" fill="#39548b" stroke="#39548b"/>
<circle cx="510.2" cy="1557.2" r="9" fill="#39558b" stroke="#39558b"/>
<circle cx="508.8" cy="1540.5" r="9" fill="#38578c" stroke="#38578c"/>
<circle cx="471.1" cy="1587.9" r="9" fill="#38588c" stroke="#38588c"/>
<circle cx="476.5" cy="1587.9" r="9" fill="#38588c" stroke="#38588c"/>
<circle cx="494.9" cy="1580.5" r="9" fill="#37598c" stroke="#37598c"/>
<circle cx="486.4" cy="1585.2" r="9" fill="#37598c" stroke="#37598c"/>
<circle cx="509.1" cy="1542.2" r="9" fill="#37598c" stroke="#37598c"/>
<circle cx="449.3" cy="1544.9" r="9" fill="#37598c" stroke="#37598c"/>
<circle cx="476.5" cy="1587.6" r="9" fill="#37598c" stroke="#37598c"/>
<circle cx="451.4" cy="1541.2" r="9" fill="#375a8c" stroke="#375a8c"/>
<circle cx="463.0" cy="1529.7" r="9" fill="#365c8c" stroke="#365c8c"/>
<circle cx="472.5" cy="1525.2" r="9" fill="#365d8c" stroke="#365d8c"/>
<circle cx="480.8" cy="1586.4" r="9" fill="#355e8c" stroke="#355e8c"/>
<circle cx="509.4" cy="1550.6" r="9" fill="#34608c" stroke="#34608c"/>
<circle cx="505.5" cy="1566.7" r="9" fill="#34608c" stroke="#34608c"/>
<circle cx="459.5" cy="1583.3" r="9" fill="#34618c" stroke="#34618c"/>
<circle cx="509.1" cy="1552.3" r="9" fill="#32638d" stroke="#32638d"/>
<circle cx="477.6" cy="1586.3" r="9" fill="#32648d" stroke="#32648d"/>
<circle cx="461.2" cy="1583.7" r="9" fill="#32648d" stroke="#32648d"/>
<circle cx="453.4" cy="1540.4" r="9" fill="#32648d" stroke="#32648d"/>
<circle cx="450.9" cy="1574.2" r="9" fill="#32648d" stroke="#32648d"/>
<circle cx="505.6" cy="1537.9" r="9" fill="#31658d" stroke="#31658d"/>
<circle cx="507.0" cy="1541.0" r="9" fill="#31668d" stroke="#31668d"/>
<circle cx="449.0" cy="1569.9" r="9" fill="#31668d" stroke="#31668d"/>
<circle cx="465.1" cy="1529.7" r="9" fill="#31678d" stroke="#31678d"/>
<circle cx="448.8" cy="1569.1" r="9" fill="#31678d" stroke="#31678d"/>
<circle cx="454.5" cy="1578.4" r="9" fill="#31678d" stroke="#31678d"/>
<circle cx="459.6" cy="1582.3" r="9" fill="#30688d" stroke="#30688d"/>
<circle cx="474.5" cy="1526.0" r="9" fill="#30688d" stroke="#30688d"/>
<circle cx="471.8" cy="1586.0" r="9" fill="#30688d" stroke="#30688d"/>
<circle cx="508.2" cy="1555.5" r="9" fill="#30698d" stroke="#30698d"/>
<circle cx="455.5" cy="1578.7" r="9" fill="#2f6a8d" stroke="#2f6a8d"/>
<circle cx="470.7" cy="1585.6" r="9" fill="#2f6a8d" stroke="#2f6a8d"/>
<circle cx="472.6" cy="1526.9" r="9" fill="#2f6b8d" stroke="#2f6b8d"/>
<circle cx="450.7" cy="1571.8" r="9" fill="#2e6c8e" stroke="#2e6c8e"/>
<circle cx="473.2" cy="1585.3" r="9" fill="#2d6e8e" stroke="#2d6e8e"/>
<circle cx="481.6" cy="1584.3" r="9" fill="#2d6e8e" stroke="#2d6e8e"/>
<circle cx="453.9" cy="1576.2" r="9" fill="#2d6f8e" stroke="#2d6f8e"/>
<circle cx="481.3" cy="1584.2" r="9" fill="#2d708e" stroke="#2d708e"/>
<circle cx="456.4" cy="1538.6" r="9" fill="#2c718e" stroke="#2c718e"/>
<circle cx="501.0" cy="1570.5" r="9" fill="#2c718e" stroke="#2c718e"/>
<circle cx="448.9" cy="1564.3" r="9" fill="#2c728e" stroke="#2c728e"/>
<circle cx="482.7" cy="1583.5" r="9" fill="#2b738e" stroke="#2b738e"/>
<circle cx="454.9" cy="1541.1" r="9" fill="#2b738e" stroke="#2b738e"/>
<circle cx="460.2" cy="1580.9" r="9" fill="#2b748e" stroke="#2b748e"/>
<circle cx="480.9" cy="1583.7" r="9" fill="#2b758e" stroke="#2b758e"/>
<circle cx="505.5" cy="1542.8" r="9" fill="#2a778e" stroke="#2a778e"/>
<circle cx="450.2" cy="1566.8" r="9" fill="#2a788e" stroke="#2a788e"/>
<circle cx="497.0" cy="1531.6" r="9" fill="#29798e" stroke="#29798e"/>
<circle cx="481.8" cy="1583.0" r="9" fill="#29798e" stroke="#29798e"/>
<circle cx="478.4" cy="1583.7" r="9" fill="#29798e" stroke="#29798e"/>
<circle cx="499.8" cy="1570.6" r="9" fill="#297a8e" stroke="#297a8e"/>
<circle cx="492.8" cy="1577.6" r="9" fill="#297a8e" stroke="#297a8e"/>
<circle cx="459.6" cy="1579.6" r="9" fill="#297b8e" stroke="#297b8e"/>
<circle cx="460.5" cy="1535.8" r="9" fill="#297b8e" stroke="#297b8e"/>
<circle cx="449.8" cy="1560.3" r="9" fill="#287c8e" stroke="#287c8e"/>
<circle cx="459.3" cy="1537.2" r="9" fill="#287c8e" stroke="#287c8e"/>
<circle cx="505.9" cy="1547.6" r="9" fill="#287d8e" stroke="#287d8e"/>
<circle cx="474.6" cy="1583.6" r="9" fill="#287d8e" stroke="#287d8e"/>
<circle cx="464.4" cy="1533.1" r="9" fill="#287d8e" stroke="#287d8e"/>
<circle cx="488.1" cy="1579.9" r="9" fill="#277e8e" stroke="#277e8e"/>
<circle cx="467.5" cy="1531.3" r="9" fill="#277f8e" stroke="#277f8e"/>
<circle cx="457.4" cy="1539.8" r="9" fill="#27808e" stroke="#27808e"/>
<circle cx="488.6" cy="1528.5" r="9" fill="#27808e" stroke="#27808e"/>
<circle cx="505.8" cy="1551.6" r="9" fill="#26818d" stroke="#26818d"/>
<circle cx="456.2" cy="1575.6" r="9" fill="#26818d" stroke="#26818d"/>
<circle cx="486.4" cy="1528.2" r="9" fill="#26818d" stroke="#26818d"/>
<circle cx="494.8" cy="1574.7" r="9" fill="#26838d" stroke="#26838d"/>
<circle cx="478.2" cy="1582.7" r="9" fill="#26838d" stroke="#26838d"/>
<circle cx="505.4" cy="1554.3" r="9" fill="#26838d" stroke="#26838d"/>
<circle cx="452.0" cy="1550.5" r="9" fill="#25848d" stroke="#25848d"/>
<circle cx="484.7" cy="1528.4" r="9" fill="#25868d" stroke="#25868d"/>
<circle cx="496.3" cy="1572.7" r="9" fill="#24878d" stroke="#24878d"/>
<circle cx="453.7" cy="1547.3" r="9" fill="#24888d" stroke="#24888d"/>
<circle cx="453.3" cy="1548.5" r="9" fill="#24888d" stroke="#24888d"/>
<circle cx="464.0" cy="1534.8" r="9" fill="#238a8d" stroke="#238a8d"/>
<circle cx="498.1" cy="1535.1" r="9" fill="#238a8d" stroke="#238a8d"/>
<circle cx="484.2" cy="1528.9" r="9" fill="#238a8d" stroke="#238a8d"/>
<circle cx="454.5" cy="1571.3" r="9" fill="#238b8d" stroke="#238b8d"/>
<circle cx="466.0" cy="1580.6" r="9" fill="#228c8d" stroke="#228c8d"/>
<circle cx="460.0" cy="1577.3" r="9" fill="#228d8d" stroke="#228d8d"/>
<circle cx="468.3" cy="1581.2" r="9" fill="#228d8d" stroke="#228d8d"/>
<circle cx="461.8" cy="1578.1" r="9" fill="#21908d" stroke="#21908d"/>
<circle cx="472.6" cy="1531.0" r="9" fill="#21918d" stroke="#21918d"/>
<circle cx="457.1" cy="1543.2" r="9" fill="#21918d" stroke="#21918d"/>
<circle cx="466.7" cy="1580.3" r="9" fill="#21918d" stroke="#21918d"/>
<circle cx="501.8" cy="1541.9" r="9" fill="#21928c" stroke="#21928c"/>
<circle cx="453.4" cy="1551.4" r="9" fill="#22938c" stroke="#22938c"/>
<circle cx="500.9" cy="1563.9" r="9" fill="#22948c" stroke="#22948c"/>
<circle cx="490.4" cy="1575.8" r="9" fill="#22958b" stroke="#22958b"/>
<circle cx="455.4" cy="1547.0" r="9" fill="#22958b" stroke="#22958b"/>
<circle cx="499.6" cy="1539.1" r="9" fill="#22968b" stroke="#22968b"/>
<circle cx="452.6" cy="1560.9" r="9" fill="#22968b" stroke="#22968b"/>
<circle cx="464.0" cy="1536.6" r="9" fill="#22968a" stroke="#22968a"/>
<circle cx="474.5" cy="1580.8" r="9" fill="#22978a" stroke="#22978a"/>
<circle cx="479.7" cy="1530.3" r="9" fill="#22978a" stroke="#22978a"/>
<circle cx="497.3" cy="1567.5" r="9" fill="#249f87" stroke="#249f87"/>
<circle cx="495.4" cy="1569.9" r="9" fill="#249f87" stroke="#249f87"/>
<circle cx="495.5" cy="1536.3" r="9" fill="#24a087" stroke="#24a087"/>
<circle cx="454.1" cy="1556.5" r="9" fill="#25a285" stroke="#25a285"/>
<circle cx="471.2" cy="1579.2" r="9" fill="#25a385" stroke="#25a385"/>
<circle cx="490.2" cy="1533.4" r="9" fill="#25a385" stroke="#25a385"/>
<circle cx="455.4" cy="1566.1" r="9" fill="#25a485" stroke="#25a485"/>
<circle cx="459.3" cy="1572.7" r="9" fill="#25a485" stroke="#25a485"/>
<circle cx="499.9" cy="1543.2" r="9" fill="#25a585" stroke="#25a585"/>
<circle cx="500.8" cy="1558.7" r="9" fill="#25a584" stroke="#25a584"/>
<circle cx="492.9" cy="1535.2" r="9" fill="#25a584" stroke="#25a584"/>
<circle cx="500.4" cy="1559.3" r="9" fill="#26a684" stroke="#26a684"/>
<circle cx="456.5" cy="1567.8" r="9" fill="#26a783" stroke="#26a783"/>
<circle cx="470.3" cy="1534.8" r="9" fill="#26a883" stroke="#26a883"/>
<circle cx="481.4" cy="1532.2" r="9" fill="#26a883" stroke="#26a883"/>
<circle cx="486.3" cy="1575.9" r="9" fill="#26a883" stroke="#26a883"/>
<circle cx="483.1" cy="1577.2" r="9" fill="#26a983" stroke="#26a983"/>
<circle cx="455.4" cy="1563.7" r="9" fill="#26aa82" stroke="#26aa82"/>
<circle cx="472.4" cy="1578.2" r="9" fill="#27ac81" stroke="#27ac81"/>
<circle cx="463.2" cy="1540.5" r="9" fill="#27ad81" stroke="#27ad81"/>
<circle cx="477.2" cy="1578.1" r="9" fill="#27ad81" stroke="#27ad81"/>
<circle cx="466.5" cy="1576.5" r="9" fill="#28ad81" stroke="#28ad81"/>
<circle cx="500.1" cy="1557.0" r="9" fill="#29ae80" stroke="#29ae80"/>
<circle cx="464.6" cy="1575.4" r="9" fill="#2aae7f" stroke="#2aae7f"/>
<circle cx="474.6" cy="1534.2" r="9" fill="#2fb17c" stroke="#2fb17c"/>
<circle cx="461.8" cy="1572.8" r="9" fill="#2fb17c" stroke="#2fb17c"/>
<circle cx="461.6" cy="1572.6" r="9" fill="#31b27b" stroke="#31b27b"/>
<circle cx="456.3" cy="1554.5" r="9" fill="#31b27b" stroke="#31b27b"/>
<circle cx="499.0" cy="1546.1" r="9" fill="#33b37a" stroke="#33b37a"/>
<circle cx="466.0" cy="1539.2" r="9" fill="#35b479" stroke="#35b479"/>
<circle cx="495.8" cy="1565.4" r="9" fill="#35b479" stroke="#35b479"/>
<circle cx="499.7" cy="1550.6" r="9" fill="#36b578" stroke="#36b578"/>
<circle cx="457.4" cy="1551.5" r="9" fill="#36b578" stroke="#36b578"/>
<circle cx="485.5" cy="1534.3" r="9" fill="#37b578" stroke="#37b578"/>
<circle cx="486.6" cy="1573.9" r="9" fill="#38b677" stroke="#38b677"/>
<circle cx="496.6" cy="1563.5" r="9" fill="#3ab776" stroke="#3ab776"/>
<circle cx="458.4" cy="1566.9" r="9" fill="#3ab776" stroke="#3ab776"/>
<circle cx="457.2" cy="1554.8" r="9" fill="#3fb973" stroke="#3fb973"/>
<circle cx="462.6" cy="1571.7" r="9" fill="#42bb71" stroke="#42bb71"/>
<circle cx="496.9" cy="1544.0" r="9" fill="#43bb71" stroke="#43bb71"/>
<circle cx="459.6" cy="1548.3" r="9" fill="#43bb71" stroke="#43bb71"/>
<circle cx="498.8" cy="1552.9" r="9" fill="#44bc71" stroke="#44bc71"/>
<circle cx="465.9" cy="1540.5" r="9" fill="#45bc70" stroke="#45bc70"/>
<circle cx="498.4" cy="1556.1" r="9" fill="#46bd70" stroke="#46bd70"/>
<circle cx="491.1" cy="1569.5" r="9" fill="#46bd70" stroke="#46bd70"/>
<circle cx="457.9" cy="1562.4" r="9" fill="#49be6e" stroke="#49be6e"/>
<circle cx="461.3" cy="1546.3" r="9" fill="#4abf6d" stroke="#4abf6d"/>
<circle cx="470.1" cy="1538.2" r="9" fill="#4cc06c" stroke="#4cc06c"/>
<circle cx="465.8" cy="1541.3" r="9" fill="#4dc06c" stroke="#4dc06c"/>
<circle cx="459.0" cy="1564.8" r="9" fill="#4ec16b" stroke="#4ec16b"/>
<circle cx="497.8" cy="1556.0" r="9" fill="#4fc16a" stroke="#4fc16a"/>
<circle cx="488.3" cy="1571.0" r="9" fill="#4fc26a" stroke="#4fc26a"/>
<circle cx="491.8" cy="1567.6" r="9" fill="#52c368" stroke="#52c368"/>
<circle cx="467.7" cy="1540.2" r="9" fill="#53c368" stroke="#53c368"/>
<circle cx="472.8" cy="1575.1" r="9" fill="#54c468" stroke="#54c468"/>
<circle cx="492.0" cy="1540.0" r="9" fill="#56c566" stroke="#56c566"/>
<circle cx="468.2" cy="1573.6" r="9" fill="#57c566" stroke="#57c566"/>
<circle cx="475.2" cy="1574.8" r="9" fill="#59c765" stroke="#59c765"/>
<circle cx="489.5" cy="1538.6" r="9" fill="#5ac764" stroke="#5ac764"/>
<circle cx="491.5" cy="1567.1" r="9" fill="#5ac764" stroke="#5ac764"/>
<circle cx="490.3" cy="1539.5" r="9" fill="#5fc961" stroke="#5fc961"/>
<circle cx="494.9" cy="1544.6" r="9" fill="#60c960" stroke="#60c960"/>
<circle cx="491.4" cy="1540.6" r="9" fill="#63ca5f" stroke="#63ca5f"/>
<circle cx="463.1" cy="1546.4" r="9" fill="#64ca5e" stroke="#64ca5e"/>
<circle cx="466.8" cy="1542.6" r="9" fill="#6acc5a" stroke="#6acc5a"/>
<circle cx="495.1" cy="1559.3" r="9" fill="#6dcc58" stroke="#6dcc58"/>
<circle cx="474.5" cy="1538.3" r="9" fill="#6ecd58" stroke="#6ecd58"/>
<circle cx="468.3" cy="1541.8" r="9" fill="#70cd57" stroke="#70cd57"/>
<circle cx="463.4" cy="1568.0" r="9" fill="#72ce55" stroke="#72ce55"/>
<circle cx="462.2" cy="1565.9" r="9" fill="#76cf53" stroke="#76cf53"/>
<circle cx="463.9" cy="1568.1" r="9" fill="#78cf52" stroke="#78cf52"/>
<circle cx="476.5" cy="1572.8" r="9" fill="#7ed14e" stroke="#7ed14e"/>
<circle cx="494.8" cy="1549.2" r="9" fill="#7fd14d" stroke="#7fd14d"/>
<circle cx="493.3" cy="1545.6" r="9" fill="#80d14c" stroke="#80d14c"/>
<circle cx="482.5" cy="1538.6" r="9" fill="#83d24b" stroke="#83d24b"/>
<circle cx="472.0" cy="1572.0" r="9" fill="#86d349" stroke="#86d349"/>
<circle cx="494.7" cy="1555.3" r="9" fill="#86d348" stroke="#86d348"/>
<circle cx="493.5" cy="1559.0" r="9" fill="#8ad446" stroke="#8ad446"/>
<circle cx="476.7" cy="1572.0" r="9" fill="#8cd445" stroke="#8cd445"/>
<circle cx="469.5" cy="1570.4" r="9" fill="#91d642" stroke="#91d642"/>
<circle cx="489.9" cy="1543.2" r="9" fill="#94d640" stroke="#94d640"/>
<circle cx="489.0" cy="1542.5" r="9" fill="#95d73f" stroke="#95d73f"/>
<circle cx="474.7" cy="1541.0" r="9" fill="#9dd93a" stroke="#9dd93a"/>
<circle cx="462.8" cy="1555.6" r="9" fill="#9ed93a" stroke="#9ed93a"/>
<circle cx="484.0" cy="1568.6" r="9" fill="#9ed939" stroke="#9ed939"/>
<circle cx="470.2" cy="1543.6" r="9" fill="#9fd939" stroke="#9fd939"/>
<circle cx="463.2" cy="1555.1" r="9" fill="#a3da36" stroke="#a3da36"/>
<circle cx="463.2" cy="1556.6" r="9" fill="#a6db35" stroke="#a6db35"/>
<circle cx="492.0" cy="1548.9" r="9" fill="#a7db34" stroke="#a7db34"/>
<circle cx="463.4" cy="1558.7" r="9" fill="#aadc32" stroke="#aadc32"/>
<circle cx="468.4" cy="1567.7" r="9" fill="#aadc32" stroke="#aadc32"/>
<circle cx="488.9" cy="1562.5" r="9" fill="#b3dd31" stroke="#b3dd31"/>
<circle cx="466.0" cy="1550.2" r="9" fill="#b3dd31" stroke="#b3dd31"/>
<circle cx="470.0" cy="1545.4" r="9" fill="#b4dd30" stroke="#b4dd30"/>
<circle cx="471.6" cy="1568.4" r="9" fill="#b7de30" stroke="#b7de30"/>
<circle cx="470.7" cy="1545.3" r="9" fill="#b9de30" stroke="#b9de30"/>
<circle cx="485.7" cy="1564.8" r="9" fill="#c0df2f" stroke="#c0df2f"/>
<circle cx="466.2" cy="1562.1" r="9" fill="#c2df2e" stroke="#c2df2e"/>
<circle cx="468.8" cy="1565.2" r="9" fill="#c6e02e" stroke="#c6e02e"/>
<circle cx="482.6" cy="1566.3" r="9" fill="#c6e02e" stroke="#c6e02e"/>
<circle cx="488.1" cy="1560.7" r="9" fill="#cae02d" stroke="#cae02d"/>
<circle cx="489.8" cy="1552.6" r="9" fill="#cde12d" stroke="#cde12d"/>
<circle cx="471.5" cy="1565.9" r="9" fill="#d1e12c" stroke="#d1e12c"/>
<circle cx="475.3" cy="1566.9" r="9" fill="#d2e12c" stroke="#d2e12c"/>
<circle cx="471.1" cy="1565.0" r="9" fill="#d6e22b" stroke="#d6e22b"/>
<circle cx="488.7" cy="1555.1" r="9" fill="#d8e22b" stroke="#d8e22b"/>
<circle cx="481.6" cy="1564.9" r="9" fill="#dae22b" stroke="#dae22b"/>
<circle cx="474.2" cy="1565.6" r="9" fill="#dce32a" stroke="#dce32a"/>
<circle cx="469.6" cy="1550.8" r="9" fill="#dde32a" stroke="#dde32a"/>
<circle cx="471.2" cy="1562.5" r="9" fill="#e6e429" stroke="#e6e429"/>
<circle cx="469.7" cy="1557.1" r="9" fill="#ebe528" stroke="#ebe528"/>
<circle cx="485.8" cy="1556.4" r="9" fill="#ece528" stroke="#ece528"/>
<circle cx="480.8" cy="1547.9" r="9" fill="#eee527" stroke="#eee527"/>
<circle cx="480.6" cy="1548.2" r="9" fill="#f0e527" stroke="#f0e527"/>
<circle cx="485.5" cy="1554.8" r="9" fill="#f0e527" stroke="#f0e527"/>
<circle cx="484.9" cy="1551.8" r="9" fill="#f0e527" stroke="#f0e527"/>
<circle cx="471.8" cy="1554.5" r="9" fill="#f4e626" stroke="#f4e626"/>
<circle cx="483.0" cy="1551.0" r="9" fill="#f5e626" stroke="#f5e626"/>
<circle cx="476.5" cy="1550.7" r="9" fill="#f8e626" stroke="#f8e626"/>
<circle cx="474.8" cy="1560.0" r="9" fill="#f8e626" stroke="#f8e626"/>
<circle cx="478.6" cy="1560.4" r="9" fill="#f9e626" stroke="#f9e626"/>
<circle cx="478.0" cy="1553.2" r="9" fill="#fce725" stroke="#fce725"/>
<circle cx="479.5" cy="1555.9" r="9" fill="#fde725" stroke="#fde725"/>
</g>
<line x1="476.4" y1="1814.7" x2="476.4" y2="1408.4" stroke="#000" stroke-width="4.8" stroke-dasharray="16.5 7.3"/>
<line x1="161.1" y1="1555.6" x2="577.7" y2="1555.6" stroke="#000" stroke-width="4.8" stroke-dasharray="16.5 7.25"/>
<path d="M161.1 1405.9 V1814 H579.5" fill="none" stroke="#262626" stroke-width="3.8" stroke-linejoin="miter"/>
<line x1="143.3" y1="1429.6" x2="161.1" y2="1429.6" stroke="#262626" stroke-width="4.2"/>
<text x="135.4" y="1441.8" font-size="22.6" text-anchor="end" fill="#262626">10</text>
<line x1="143.3" y1="1555.6" x2="161.1" y2="1555.6" stroke="#262626" stroke-width="4.2"/>
<text x="135.4" y="1567.8" font-size="22.6" text-anchor="end" fill="#262626">0</text>
<line x1="143.3" y1="1681.6" x2="161.1" y2="1681.6" stroke="#262626" stroke-width="4.2"/>
<text x="135.4" y="1693.8" font-size="22.6" text-anchor="end" fill="#262626">−10</text>
<line x1="143.3" y1="1807.6" x2="161.1" y2="1807.6" stroke="#262626" stroke-width="4.2"/>
<text x="135.4" y="1819.8" font-size="22.6" text-anchor="end" fill="#262626">−20</text>
<line x1="244.4" y1="1814.0" x2="244.4" y2="1832.0" stroke="#262626" stroke-width="4.2"/>
<text x="254.3" y="1858.2" font-size="22.6" text-anchor="end" fill="#262626">−20</text>
<line x1="360.4" y1="1814.0" x2="360.4" y2="1832.0" stroke="#262626" stroke-width="4.2"/>
<text x="370.2" y="1858.2" font-size="22.6" text-anchor="end" fill="#262626">−10</text>
<line x1="476.4" y1="1814.0" x2="476.4" y2="1832.0" stroke="#262626" stroke-width="4.2"/>
<text x="479.9" y="1858.2" font-size="22.6" text-anchor="end" fill="#262626">0</text>
<text x="344.0" y="1918.0" font-size="25.7" text-anchor="middle" fill="#262626">MOLM13 d21</text>
<text transform="translate(90.0 1636.7) rotate(-90)" font-size="25.6" text-anchor="middle" fill="#262626">NOMO-1 d21</text>
<text x="193.2" y="1467.3" font-size="22.5" fill="#262626">r = 0.37</text>
<line x1="337.4" y1="1527.2" x2="369.6" y2="1548.4" stroke="#000" stroke-width="3" stroke-linecap="round"/>
<line x1="312.2" y1="1591.1" x2="372.4" y2="1604.2" stroke="#000" stroke-width="3" stroke-linecap="round"/>
<line x1="372.4" y1="1633.5" x2="379.7" y2="1634.6" stroke="#000" stroke-width="3" stroke-linecap="round"/>
<line x1="413.8" y1="1657" x2="445.1" y2="1629.4" stroke="#000" stroke-width="3" stroke-linecap="round"/>
<text x="240.3" y="1519.7" font-size="22.3">ACACA_GPAT4</text>
<text x="209.9" y="1581.9" font-size="22.3">SREBF1_SREBF2</text>
<text x="214.5" y="1628.0" font-size="22.3">C12orf49_LDLR</text>
<text x="331.8" y="1682.4" font-size="22.3">PTEN_TSC1</text>
<defs><linearGradient id="virg" x1="0" y1="1" x2="0" y2="0"><stop offset="0.000" stop-color="#440154"/><stop offset="0.125" stop-color="#472c7a"/><stop offset="0.250" stop-color="#3b518b"/><stop offset="0.375" stop-color="#2c718e"/><stop offset="0.500" stop-color="#21908d"/><stop offset="0.625" stop-color="#27ad81"/><stop offset="0.750" stop-color="#5cc863"/><stop offset="0.875" stop-color="#aadc32"/><stop offset="1.000" stop-color="#fde725"/></linearGradient></defs>
<rect x="591.9" y="1620.7" width="32.8" height="162.0" fill="url(#virg)"/>
<line x1="591.9" y1="1641.5" x2="598.1" y2="1641.5" stroke="#d0d0d0" stroke-width="3.3"/>
<line x1="618.5" y1="1641.5" x2="624.7" y2="1641.5" stroke="#d0d0d0" stroke-width="3.3"/>
<text x="634.6" y="1646.9" font-size="22">25</text>
<line x1="591.9" y1="1672.4" x2="598.1" y2="1672.4" stroke="#d0d0d0" stroke-width="3.3"/>
<line x1="618.5" y1="1672.4" x2="624.7" y2="1672.4" stroke="#d0d0d0" stroke-width="3.3"/>
<text x="634.6" y="1677.8" font-size="22">20</text>
<line x1="591.9" y1="1703.4" x2="598.1" y2="1703.4" stroke="#d0d0d0" stroke-width="3.3"/>
<line x1="618.5" y1="1703.4" x2="624.7" y2="1703.4" stroke="#d0d0d0" stroke-width="3.3"/>
<text x="634.6" y="1708.8" font-size="22">15</text>
<line x1="591.9" y1="1734.3" x2="598.1" y2="1734.3" stroke="#d0d0d0" stroke-width="3.3"/>
<line x1="618.5" y1="1734.3" x2="624.7" y2="1734.3" stroke="#d0d0d0" stroke-width="3.3"/>
<text x="634.6" y="1739.7" font-size="22">10</text>
<line x1="591.9" y1="1765.2" x2="598.1" y2="1765.2" stroke="#d0d0d0" stroke-width="3.3"/>
<line x1="618.5" y1="1765.2" x2="624.7" y2="1765.2" stroke="#d0d0d0" stroke-width="3.3"/>
<text x="634.6" y="1770.6" font-size="22">5</text>
<text x="591.3" y="1615.6" font-size="22.2">count</text>
</g>
<g id="ph">
<text x="784.0" y="1364.1" font-size="54" font-weight="bold">h</text>
<text x="1170.3" y="1355.8" font-size="29.5">Interactions at FDR &lt; 0.001</text>
<text x="966.5" y="1399.9" font-size="29.5">MOLM13</text>
<text x="1560.5" y="1399.9" font-size="29.5">NOMO1</text>
<line x1="853.8" y1="1439.9" x2="854.0" y2="1533.1" stroke="#8b2e2f" stroke-width="10.7"/>
<line x1="794.5" y1="1485.3" x2="854.0" y2="1533.1" stroke="#c9908b" stroke-width="3.8"/>
<line x1="779.1" y1="1566.6" x2="854.0" y2="1533.1" stroke="#c9908b" stroke-width="4.0"/>
<line x1="854.0" y1="1533.1" x2="918.6" y2="1587.5" stroke="#c4837d" stroke-width="4.8"/>
<line x1="918.6" y1="1587.5" x2="983.4" y2="1650.9" stroke="#832124" stroke-width="12.8"/>
<line x1="983.4" y1="1650.9" x2="1073.7" y2="1644.5" stroke="#9b8fd0" stroke-width="4.3"/>
<line x1="983.4" y1="1650.9" x2="970.9" y2="1752.1" stroke="#a096d6" stroke-width="3.5"/>
<line x1="1062.9" y1="1561.8" x2="1073.7" y2="1644.5" stroke="#9b91cf" stroke-width="3.7"/>
<line x1="1122.8" y1="1559.3" x2="1073.7" y2="1644.5" stroke="#9b91cf" stroke-width="4.0"/>
<line x1="1149.0" y1="1590.9" x2="1073.7" y2="1644.5" stroke="#b0605a" stroke-width="7.4"/>
<line x1="1149.0" y1="1590.9" x2="1196.2" y2="1521.4" stroke="#c4827c" stroke-width="4.5"/>
<line x1="1196.2" y1="1521.4" x2="1190.7" y2="1427.5" stroke="#8a80c4" stroke-width="5.1"/>
<line x1="1196.2" y1="1521.4" x2="1275.1" y2="1547.8" stroke="#c4827c" stroke-width="4.8"/>
<line x1="1073.7" y1="1644.5" x2="1056.3" y2="1750.2" stroke="#c4857f" stroke-width="4.3"/>
<line x1="1073.7" y1="1644.5" x2="1022.3" y2="1698.2" stroke="#857ac2" stroke-width="6.2"/>
<line x1="1073.7" y1="1644.5" x2="1130.1" y2="1647.3" stroke="#6a5fb2" stroke-width="8.7"/>
<line x1="1073.7" y1="1644.5" x2="1151.6" y2="1687.8" stroke="#8e3432" stroke-width="10.0"/>
<line x1="1073.7" y1="1644.5" x2="1114.5" y2="1708.5" stroke="#7f1f22" stroke-width="12.6"/>
<line x1="1022.3" y1="1698.2" x2="970.9" y2="1752.1" stroke="#8a7fc6" stroke-width="5.4"/>
<line x1="970.9" y1="1752.1" x2="1056.3" y2="1750.2" stroke="#b3645f" stroke-width="7.4"/>
<line x1="970.9" y1="1752.1" x2="934.3" y2="1832.3" stroke="#8f85cb" stroke-width="5.4"/>
<line x1="970.9" y1="1752.1" x2="978.2" y2="1842.0" stroke="#a79ddb" stroke-width="3.5"/>
<line x1="1056.3" y1="1750.2" x2="1103.8" y2="1834.0" stroke="#9d93d3" stroke-width="4.3"/>
<line x1="1103.8" y1="1834.0" x2="1172.1" y2="1880.1" stroke="#c68984" stroke-width="4.6"/>
<line x1="1103.8" y1="1834.0" x2="1103.3" y2="1923.3" stroke="#c98f8a" stroke-width="3.9"/>
<circle cx="853.8" cy="1439.9" r="13" fill="#fff" stroke="#3d3d3d" stroke-width="2.4"/>
<circle cx="794.5" cy="1485.3" r="13" fill="#fff" stroke="#3d3d3d" stroke-width="2.4"/>
<circle cx="854.0" cy="1533.1" r="13" fill="#fff" stroke="#3d3d3d" stroke-width="2.4"/>
<circle cx="779.1" cy="1566.6" r="13" fill="#fff" stroke="#3d3d3d" stroke-width="2.4"/>
<circle cx="918.6" cy="1587.5" r="13" fill="#fff" stroke="#3d3d3d" stroke-width="2.4"/>
<circle cx="1031.6" cy="1577.8" r="13" fill="#fff" stroke="#3d3d3d" stroke-width="2.4"/>
<circle cx="1062.9" cy="1561.8" r="13" fill="#fff" stroke="#3d3d3d" stroke-width="2.4"/>
<circle cx="1122.8" cy="1559.3" r="13" fill="#fff" stroke="#3d3d3d" stroke-width="2.4"/>
<circle cx="1190.7" cy="1427.5" r="13" fill="#fff" stroke="#3d3d3d" stroke-width="2.4"/>
<circle cx="1253.1" cy="1470.3" r="13" fill="#fff" stroke="#3d3d3d" stroke-width="2.4"/>
<circle cx="1196.2" cy="1521.4" r="13" fill="#fff" stroke="#3d3d3d" stroke-width="2.4"/>
<circle cx="1275.1" cy="1547.8" r="13" fill="#fff" stroke="#3d3d3d" stroke-width="2.4"/>
<circle cx="1149.0" cy="1590.9" r="13" fill="#fff" stroke="#3d3d3d" stroke-width="2.4"/>
<circle cx="1073.7" cy="1644.5" r="13" fill="#fff" stroke="#3d3d3d" stroke-width="2.4"/>
<circle cx="1130.1" cy="1647.3" r="13" fill="#fff" stroke="#3d3d3d" stroke-width="2.4"/>
<circle cx="1151.6" cy="1687.8" r="13" fill="#fff" stroke="#3d3d3d" stroke-width="2.4"/>
<circle cx="1114.5" cy="1708.5" r="13" fill="#fff" stroke="#3d3d3d" stroke-width="2.4"/>
<circle cx="983.4" cy="1650.9" r="13" fill="#fff" stroke="#3d3d3d" stroke-width="2.4"/>
<circle cx="1022.3" cy="1698.2" r="13" fill="#fff" stroke="#3d3d3d" stroke-width="2.4"/>
<circle cx="896.8" cy="1739.9" r="13" fill="#fff" stroke="#3d3d3d" stroke-width="2.4"/>
<circle cx="970.9" cy="1752.1" r="13" fill="#fff" stroke="#3d3d3d" stroke-width="2.4"/>
<circle cx="1056.3" cy="1750.2" r="13" fill="#fff" stroke="#3d3d3d" stroke-width="2.4"/>
<circle cx="902.3" cy="1793.3" r="13" fill="#fff" stroke="#3d3d3d" stroke-width="2.4"/>
<circle cx="934.3" cy="1832.3" r="13" fill="#fff" stroke="#3d3d3d" stroke-width="2.4"/>
<circle cx="978.2" cy="1842.0" r="13" fill="#fff" stroke="#3d3d3d" stroke-width="2.4"/>
<circle cx="1103.8" cy="1834.0" r="13" fill="#fff" stroke="#3d3d3d" stroke-width="2.4"/>
<circle cx="1172.1" cy="1880.1" r="13" fill="#fff" stroke="#3d3d3d" stroke-width="2.4"/>
<circle cx="1103.3" cy="1923.3" r="13" fill="#fff" stroke="#3d3d3d" stroke-width="2.4"/>
<text x="872.2" y="1449.5" font-size="23">LDLR</text>
<text x="763.1" y="1467.0" font-size="23">SCAP</text>
<text x="871.2" y="1535.3" font-size="23">C12orf49</text>
<text x="764.6" y="1596.6" font-size="23">TMEM41A</text>
<text x="833.6" y="1625.7" font-size="23">SREBF2</text>
<text x="919.4" y="1566.2" font-size="23">SEPSECS</text>
<text x="1020.0" y="1545.0" font-size="23">CPT2</text>
<text x="1086.0" y="1543.1" font-size="23">CRLS1</text>
<text x="1211.0" y="1435.7" font-size="23">PGP</text>
<text x="1242.0" y="1507.4" font-size="23">TSC1</text>
<text x="1129.1" y="1507.4" font-size="23">PTEN</text>
<text x="1236.7" y="1581.2" font-size="23">KEAP1</text>
<text x="1165.0" y="1604.4" font-size="23">SQLE</text>
<text x="986.2" y="1632.0" font-size="23">ACACA</text>
<text x="1147.8" y="1652.3" font-size="23">ACLY</text>
<text x="1173.7" y="1697.0" font-size="23">CHP1</text>
<text x="1122.7" y="1739.5" font-size="23">GPAT4</text>
<text x="878.9" y="1661.1" font-size="23">SREBF1</text>
<text x="957.0" y="1705.6" font-size="23">SCD</text>
<text x="806.3" y="1741.9" font-size="23">PEX26</text>
<text x="985.4" y="1782.1" font-size="23">FASN</text>
<text x="1071.2" y="1770.3" font-size="23">FABP5</text>
<text x="784.4" y="1800.5" font-size="23">SLC27A3</text>
<text x="852.8" y="1845.2" font-size="23">MDH2</text>
<text x="936.4" y="1878.7" font-size="23">UBE2G2</text>
<text x="1121.0" y="1834.4" font-size="23">TP53</text>
<text x="1192.2" y="1889.2" font-size="23">IDI1</text>
<text x="1018.9" y="1930.8" font-size="23">GPX4</text>
<line x1="1441.6" y1="1439.9" x2="1441.8" y2="1533.1" stroke="#bd6f69" stroke-width="7.0"/>
<line x1="1441.8" y1="1533.1" x2="1506.4" y2="1587.5" stroke="#bd6f69" stroke-width="7.0"/>
<line x1="1619.4" y1="1577.8" x2="1661.5" y2="1644.5" stroke="#cc938d" stroke-width="4.2"/>
<line x1="1736.8" y1="1590.9" x2="1661.5" y2="1644.5" stroke="#cc938d" stroke-width="4.8"/>
<line x1="1710.6" y1="1559.3" x2="1784.0" y2="1521.4" stroke="#c98a84" stroke-width="4.8"/>
<line x1="1784.0" y1="1521.4" x2="1840.9" y2="1470.3" stroke="#b8645f" stroke-width="7.6"/>
<line x1="1484.6" y1="1739.9" x2="1558.7" y2="1752.1" stroke="#9a90d4" stroke-width="5.0"/>
<line x1="1490.1" y1="1793.3" x2="1558.7" y2="1752.1" stroke="#9a90d4" stroke-width="5.0"/>
<circle cx="1441.6" cy="1439.9" r="13" fill="#fff" stroke="#3d3d3d" stroke-width="2.4"/>
<circle cx="1382.3" cy="1485.3" r="13" fill="#fff" stroke="#3d3d3d" stroke-width="2.4"/>
<circle cx="1441.8" cy="1533.1" r="13" fill="#fff" stroke="#3d3d3d" stroke-width="2.4"/>
<circle cx="1366.9" cy="1566.6" r="13" fill="#fff" stroke="#3d3d3d" stroke-width="2.4"/>
<circle cx="1506.4" cy="1587.5" r="13" fill="#fff" stroke="#3d3d3d" stroke-width="2.4"/>
<circle cx="1619.4" cy="1577.8" r="13" fill="#fff" stroke="#3d3d3d" stroke-width="2.4"/>
<circle cx="1650.7" cy="1561.8" r="13" fill="#fff" stroke="#3d3d3d" stroke-width="2.4"/>
<circle cx="1710.6" cy="1559.3" r="13" fill="#fff" stroke="#3d3d3d" stroke-width="2.4"/>
<circle cx="1778.5" cy="1427.5" r="13" fill="#fff" stroke="#3d3d3d" stroke-width="2.4"/>
<circle cx="1840.9" cy="1470.3" r="13" fill="#fff" stroke="#3d3d3d" stroke-width="2.4"/>
<circle cx="1784.0" cy="1521.4" r="13" fill="#fff" stroke="#3d3d3d" stroke-width="2.4"/>
<circle cx="1862.9" cy="1547.8" r="13" fill="#fff" stroke="#3d3d3d" stroke-width="2.4"/>
<circle cx="1736.8" cy="1590.9" r="13" fill="#fff" stroke="#3d3d3d" stroke-width="2.4"/>
<circle cx="1661.5" cy="1644.5" r="13" fill="#fff" stroke="#3d3d3d" stroke-width="2.4"/>
<circle cx="1717.9" cy="1647.3" r="13" fill="#fff" stroke="#3d3d3d" stroke-width="2.4"/>
<circle cx="1739.4" cy="1687.8" r="13" fill="#fff" stroke="#3d3d3d" stroke-width="2.4"/>
<circle cx="1702.3" cy="1708.5" r="13" fill="#fff" stroke="#3d3d3d" stroke-width="2.4"/>
<circle cx="1571.2" cy="1650.9" r="13" fill="#fff" stroke="#3d3d3d" stroke-width="2.4"/>
<circle cx="1610.1" cy="1698.2" r="13" fill="#fff" stroke="#3d3d3d" stroke-width="2.4"/>
<circle cx="1484.6" cy="1739.9" r="13" fill="#fff" stroke="#3d3d3d" stroke-width="2.4"/>
<circle cx="1558.7" cy="1752.1" r="13" fill="#fff" stroke="#3d3d3d" stroke-width="2.4"/>
<circle cx="1644.1" cy="1750.2" r="13" fill="#fff" stroke="#3d3d3d" stroke-width="2.4"/>
<circle cx="1490.1" cy="1793.3" r="13" fill="#fff" stroke="#3d3d3d" stroke-width="2.4"/>
<circle cx="1522.1" cy="1832.3" r="13" fill="#fff" stroke="#3d3d3d" stroke-width="2.4"/>
<circle cx="1566.0" cy="1842.0" r="13" fill="#fff" stroke="#3d3d3d" stroke-width="2.4"/>
<circle cx="1691.6" cy="1834.0" r="13" fill="#fff" stroke="#3d3d3d" stroke-width="2.4"/>
<circle cx="1759.9" cy="1880.1" r="13" fill="#fff" stroke="#3d3d3d" stroke-width="2.4"/>
<circle cx="1691.1" cy="1923.3" r="13" fill="#fff" stroke="#3d3d3d" stroke-width="2.4"/>
<text x="1460.6" y="1449.5" font-size="23">LDLR</text>
<text x="1351.5" y="1467.0" font-size="23">SCAP</text>
<text x="1459.6" y="1535.3" font-size="23">C12orf49</text>
<text x="1353.0" y="1596.6" font-size="23">TMEM41A</text>
<text x="1422.0" y="1625.7" font-size="23">SREBF2</text>
<text x="1507.8" y="1566.2" font-size="23">SEPSECS</text>
<text x="1608.4" y="1545.0" font-size="23">CPT2</text>
<text x="1674.4" y="1543.1" font-size="23">CRLS1</text>
<text x="1799.4" y="1435.7" font-size="23">PGP</text>
<text x="1830.4" y="1507.4" font-size="23">TSC1</text>
<text x="1717.5" y="1507.4" font-size="23">PTEN</text>
<text x="1825.1" y="1581.2" font-size="23">KEAP1</text>
<text x="1753.4" y="1604.4" font-size="23">SQLE</text>
<text x="1623.3" y="1676.9" font-size="23">ACACA</text>
<text x="1736.2" y="1652.3" font-size="23">ACLY</text>
<text x="1762.1" y="1697.0" font-size="23">CHP1</text>
<text x="1715.1" y="1739.5" font-size="23">GPAT4</text>
<text x="1467.3" y="1661.1" font-size="23">SREBF1</text>
<text x="1545.4" y="1705.6" font-size="23">SCD</text>
<text x="1394.7" y="1741.9" font-size="23">PEX26</text>
<text x="1577.2" y="1782.1" font-size="23">FASN</text>
<text x="1659.6" y="1770.3" font-size="23">FABP5</text>
<text x="1372.8" y="1800.5" font-size="23">SLC27A3</text>
<text x="1441.2" y="1845.2" font-size="23">MDH2</text>
<text x="1524.8" y="1878.7" font-size="23">UBE2G2</text>
<text x="1709.4" y="1834.4" font-size="23">TP53</text>
<text x="1780.6" y="1889.2" font-size="23">IDI1</text>
<text x="1607.3" y="1930.8" font-size="23">GPX4</text>
<text x="1886.2" y="1675.4" font-size="33.2">Z-score</text>
<defs><linearGradient id="zsg" x1="0" y1="0" x2="0" y2="1"><stop offset="0" stop-color="#6c5bb2"/><stop offset="0.15" stop-color="#8f7fc8"/><stop offset="0.43" stop-color="#ffffff"/><stop offset="0.46" stop-color="#ffffff"/><stop offset="0.69" stop-color="#cf8f89"/><stop offset="0.96" stop-color="#8b1a1c"/><stop offset="1" stop-color="#a33a3a"/></linearGradient></defs>
<rect x="1887.9" y="1712.3" width="23.8" height="163.9" fill="url(#zsg)"/>
<line x1="1886.0" y1="1737.0" x2="1891.2" y2="1737.0" stroke="#000" stroke-width="2"/>
<line x1="1908.4" y1="1737.0" x2="1913.0" y2="1737.0" stroke="#000" stroke-width="2"/>
<text x="1929.6" y="1745.1" font-size="29.5">4</text>
<line x1="1886.0" y1="1781.1" x2="1891.2" y2="1781.1" stroke="#000" stroke-width="2"/>
<line x1="1908.4" y1="1781.1" x2="1913.0" y2="1781.1" stroke="#000" stroke-width="2"/>
<text x="1929.6" y="1789.2" font-size="29.5">0</text>
<line x1="1886.0" y1="1825.2" x2="1891.2" y2="1825.2" stroke="#000" stroke-width="2"/>
<line x1="1908.4" y1="1825.2" x2="1913.0" y2="1825.2" stroke="#000" stroke-width="2"/>
<text x="1929.6" y="1833.3" font-size="29.5">-4</text>
<line x1="1886.0" y1="1869.5" x2="1891.2" y2="1869.5" stroke="#000" stroke-width="2"/>
<line x1="1908.4" y1="1869.5" x2="1913.0" y2="1869.5" stroke="#000" stroke-width="2"/>
<text x="1929.6" y="1877.6" font-size="29.5">-8</text>
</g>
</svg>
</body></html>
